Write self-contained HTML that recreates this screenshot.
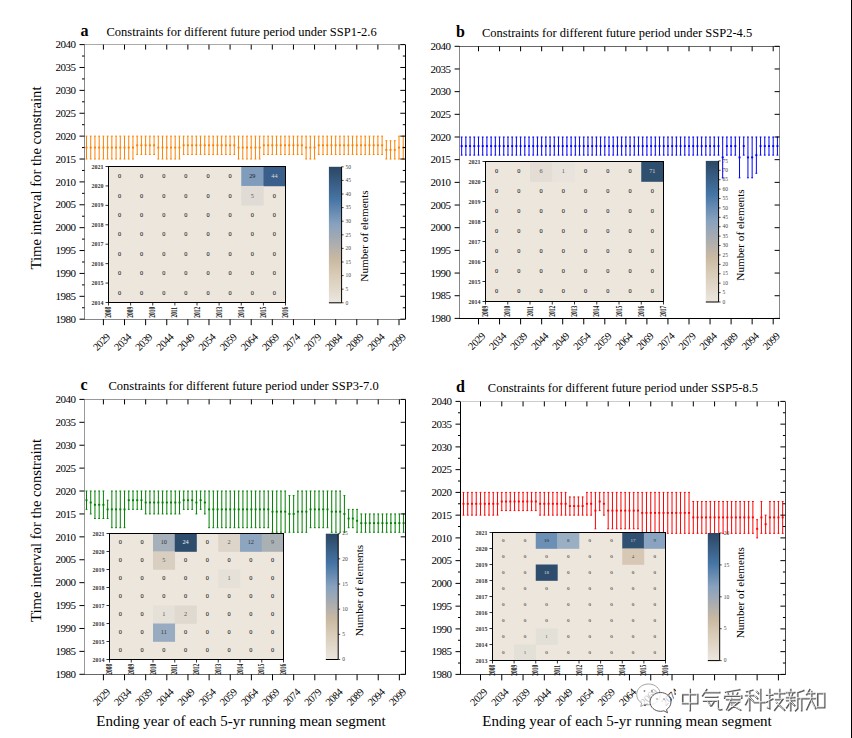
<!DOCTYPE html><html><head><meta charset="utf-8"><style>html,body{margin:0;padding:0;background:#fff;width:852px;height:738px;overflow:hidden;position:relative}</style></head><body><svg width="852" height="738" viewBox="0 0 852 738" style="display:block;position:absolute;left:0;top:0">
<defs><linearGradient id="cg" x1="0" y1="1" x2="0" y2="0"><stop offset="0" stop-color="#ebe6de"/><stop offset="0.2" stop-color="#d9ccb8"/><stop offset="0.32" stop-color="#c9b9a2"/><stop offset="0.45" stop-color="#a8acb0"/><stop offset="0.58" stop-color="#87a1be"/><stop offset="0.76" stop-color="#4675a5"/><stop offset="1" stop-color="#2b4663"/></linearGradient></defs>
<rect width="852" height="738" fill="#fff"/>
<text x="80.50" y="36.30" style="font-family:'Liberation Serif',serif;font-weight:bold;font-size:16px">a</text>
<text x="106.50" y="36.30" style="font-family:'Liberation Serif',serif;font-size:12.5px">Constraints for different future period under SSP1-2.6</text>
<g stroke="#ff8000" stroke-width="1" fill="none"><path d="M86.51 136.13V159.02M85.61 136.13h1.8M85.61 159.02h1.8"/><path d="M90.73 136.13V159.02M89.83 136.13h1.8M89.83 159.02h1.8"/><path d="M94.95 136.13V159.02M94.05 136.13h1.8M94.05 159.02h1.8"/><path d="M99.18 136.13V159.02M98.28 136.13h1.8M98.28 159.02h1.8"/><path d="M103.40 136.13V159.02M102.50 136.13h1.8M102.50 159.02h1.8"/><path d="M107.62 136.13V159.02M106.72 136.13h1.8M106.72 159.02h1.8"/><path d="M111.85 136.13V159.02M110.95 136.13h1.8M110.95 159.02h1.8"/><path d="M116.07 136.13V159.02M115.17 136.13h1.8M115.17 159.02h1.8"/><path d="M120.29 136.13V159.02M119.39 136.13h1.8M119.39 159.02h1.8"/><path d="M124.52 136.13V159.02M123.61 136.13h1.8M123.61 159.02h1.8"/><path d="M128.74 136.13V159.02M127.84 136.13h1.8M127.84 159.02h1.8"/><path d="M132.96 136.13V159.02M132.06 136.13h1.8M132.06 159.02h1.8"/><path d="M137.18 136.13V154.44M136.28 136.13h1.8M136.28 154.44h1.8"/><path d="M141.41 136.13V154.44M140.51 136.13h1.8M140.51 154.44h1.8"/><path d="M145.63 136.13V154.44M144.73 136.13h1.8M144.73 154.44h1.8"/><path d="M149.85 136.13V154.44M148.95 136.13h1.8M148.95 154.44h1.8"/><path d="M154.08 136.13V154.44M153.18 136.13h1.8M153.18 154.44h1.8"/><path d="M158.30 136.13V159.02M157.40 136.13h1.8M157.40 159.02h1.8"/><path d="M162.52 136.13V159.02M161.62 136.13h1.8M161.62 159.02h1.8"/><path d="M166.75 136.13V159.02M165.84 136.13h1.8M165.84 159.02h1.8"/><path d="M170.97 136.13V159.02M170.07 136.13h1.8M170.07 159.02h1.8"/><path d="M175.19 136.13V159.02M174.29 136.13h1.8M174.29 159.02h1.8"/><path d="M179.41 136.13V159.02M178.51 136.13h1.8M178.51 159.02h1.8"/><path d="M183.64 136.13V154.44M182.74 136.13h1.8M182.74 154.44h1.8"/><path d="M187.86 136.13V154.44M186.96 136.13h1.8M186.96 154.44h1.8"/><path d="M192.08 136.13V154.44M191.18 136.13h1.8M191.18 154.44h1.8"/><path d="M196.31 136.13V154.44M195.41 136.13h1.8M195.41 154.44h1.8"/><path d="M200.53 136.13V154.44M199.63 136.13h1.8M199.63 154.44h1.8"/><path d="M204.75 136.13V154.44M203.85 136.13h1.8M203.85 154.44h1.8"/><path d="M208.98 136.13V154.44M208.08 136.13h1.8M208.08 154.44h1.8"/><path d="M213.20 136.13V154.44M212.30 136.13h1.8M212.30 154.44h1.8"/><path d="M217.42 136.13V154.44M216.52 136.13h1.8M216.52 154.44h1.8"/><path d="M221.64 136.13V154.44M220.74 136.13h1.8M220.74 154.44h1.8"/><path d="M225.87 136.13V154.44M224.97 136.13h1.8M224.97 154.44h1.8"/><path d="M230.09 136.13V154.44M229.19 136.13h1.8M229.19 154.44h1.8"/><path d="M234.31 136.13V154.44M233.41 136.13h1.8M233.41 154.44h1.8"/><path d="M238.54 136.13V159.02M237.64 136.13h1.8M237.64 159.02h1.8"/><path d="M242.76 136.13V159.02M241.86 136.13h1.8M241.86 159.02h1.8"/><path d="M246.98 136.13V159.02M246.08 136.13h1.8M246.08 159.02h1.8"/><path d="M251.21 136.13V159.02M250.31 136.13h1.8M250.31 159.02h1.8"/><path d="M255.43 136.13V159.02M254.53 136.13h1.8M254.53 159.02h1.8"/><path d="M259.65 136.13V159.02M258.75 136.13h1.8M258.75 159.02h1.8"/><path d="M263.87 136.13V154.44M262.97 136.13h1.8M262.97 154.44h1.8"/><path d="M268.10 136.13V154.44M267.20 136.13h1.8M267.20 154.44h1.8"/><path d="M272.32 136.13V154.44M271.42 136.13h1.8M271.42 154.44h1.8"/><path d="M276.54 136.13V154.44M275.64 136.13h1.8M275.64 154.44h1.8"/><path d="M280.77 136.13V154.44M279.87 136.13h1.8M279.87 154.44h1.8"/><path d="M284.99 136.13V154.44M284.09 136.13h1.8M284.09 154.44h1.8"/><path d="M289.21 136.13V154.44M288.31 136.13h1.8M288.31 154.44h1.8"/><path d="M293.44 136.13V154.44M292.54 136.13h1.8M292.54 154.44h1.8"/><path d="M297.66 136.13V154.44M296.76 136.13h1.8M296.76 154.44h1.8"/><path d="M301.88 136.13V154.44M300.98 136.13h1.8M300.98 154.44h1.8"/><path d="M306.10 136.13V159.02M305.20 136.13h1.8M305.20 159.02h1.8"/><path d="M310.33 136.13V159.02M309.43 136.13h1.8M309.43 159.02h1.8"/><path d="M314.55 136.13V159.02M313.65 136.13h1.8M313.65 159.02h1.8"/><path d="M318.77 136.13V154.44M317.87 136.13h1.8M317.87 154.44h1.8"/><path d="M323.00 136.13V154.44M322.10 136.13h1.8M322.10 154.44h1.8"/><path d="M327.22 136.13V154.44M326.32 136.13h1.8M326.32 154.44h1.8"/><path d="M331.44 136.13V154.44M330.54 136.13h1.8M330.54 154.44h1.8"/><path d="M335.66 136.13V154.44M334.76 136.13h1.8M334.76 154.44h1.8"/><path d="M339.89 136.13V154.44M338.99 136.13h1.8M338.99 154.44h1.8"/><path d="M344.11 136.13V154.44M343.21 136.13h1.8M343.21 154.44h1.8"/><path d="M348.33 136.13V154.44M347.43 136.13h1.8M347.43 154.44h1.8"/><path d="M352.56 136.13V154.44M351.66 136.13h1.8M351.66 154.44h1.8"/><path d="M356.78 136.13V154.44M355.88 136.13h1.8M355.88 154.44h1.8"/><path d="M361.00 136.13V154.44M360.10 136.13h1.8M360.10 154.44h1.8"/><path d="M365.23 136.13V154.44M364.33 136.13h1.8M364.33 154.44h1.8"/><path d="M369.45 136.13V154.44M368.55 136.13h1.8M368.55 154.44h1.8"/><path d="M373.67 136.13V154.44M372.77 136.13h1.8M372.77 154.44h1.8"/><path d="M377.89 136.13V154.44M377.00 136.13h1.8M377.00 154.44h1.8"/><path d="M382.12 136.13V154.44M381.22 136.13h1.8M381.22 154.44h1.8"/><path d="M386.34 140.71V159.02M385.44 140.71h1.8M385.44 159.02h1.8"/><path d="M390.56 140.71V159.02M389.66 140.71h1.8M389.66 159.02h1.8"/><path d="M394.79 140.71V159.02M393.89 140.71h1.8M393.89 159.02h1.8"/><path d="M399.01 136.13V159.02M398.11 136.13h1.8M398.11 159.02h1.8"/><path d="M403.23 136.13V159.02M402.33 136.13h1.8M402.33 159.02h1.8"/></g>
<g fill="#ff8000"><rect x="85.51" y="146.67" width="2" height="1.8"/><rect x="89.73" y="146.67" width="2" height="1.8"/><rect x="93.95" y="146.67" width="2" height="1.8"/><rect x="98.18" y="146.67" width="2" height="1.8"/><rect x="102.40" y="146.67" width="2" height="1.8"/><rect x="106.62" y="146.67" width="2" height="1.8"/><rect x="110.85" y="146.67" width="2" height="1.8"/><rect x="115.07" y="146.67" width="2" height="1.8"/><rect x="119.29" y="146.67" width="2" height="1.8"/><rect x="123.52" y="146.67" width="2" height="1.8"/><rect x="127.74" y="146.67" width="2" height="1.8"/><rect x="131.96" y="146.67" width="2" height="1.8"/><rect x="136.18" y="144.39" width="2" height="1.8"/><rect x="140.41" y="144.39" width="2" height="1.8"/><rect x="144.63" y="144.39" width="2" height="1.8"/><rect x="148.85" y="144.39" width="2" height="1.8"/><rect x="153.08" y="144.39" width="2" height="1.8"/><rect x="157.30" y="146.67" width="2" height="1.8"/><rect x="161.52" y="146.67" width="2" height="1.8"/><rect x="165.75" y="146.67" width="2" height="1.8"/><rect x="169.97" y="146.67" width="2" height="1.8"/><rect x="174.19" y="146.67" width="2" height="1.8"/><rect x="178.41" y="146.67" width="2" height="1.8"/><rect x="182.64" y="144.39" width="2" height="1.8"/><rect x="186.86" y="144.39" width="2" height="1.8"/><rect x="191.08" y="144.39" width="2" height="1.8"/><rect x="195.31" y="144.39" width="2" height="1.8"/><rect x="199.53" y="144.39" width="2" height="1.8"/><rect x="203.75" y="144.39" width="2" height="1.8"/><rect x="207.98" y="144.39" width="2" height="1.8"/><rect x="212.20" y="144.39" width="2" height="1.8"/><rect x="216.42" y="144.39" width="2" height="1.8"/><rect x="220.64" y="144.39" width="2" height="1.8"/><rect x="224.87" y="144.39" width="2" height="1.8"/><rect x="229.09" y="144.39" width="2" height="1.8"/><rect x="233.31" y="144.39" width="2" height="1.8"/><rect x="237.54" y="146.67" width="2" height="1.8"/><rect x="241.76" y="146.67" width="2" height="1.8"/><rect x="245.98" y="146.67" width="2" height="1.8"/><rect x="250.21" y="146.67" width="2" height="1.8"/><rect x="254.43" y="146.67" width="2" height="1.8"/><rect x="258.65" y="146.67" width="2" height="1.8"/><rect x="262.87" y="144.39" width="2" height="1.8"/><rect x="267.10" y="144.39" width="2" height="1.8"/><rect x="271.32" y="144.39" width="2" height="1.8"/><rect x="275.54" y="144.39" width="2" height="1.8"/><rect x="279.77" y="144.39" width="2" height="1.8"/><rect x="283.99" y="144.39" width="2" height="1.8"/><rect x="288.21" y="144.39" width="2" height="1.8"/><rect x="292.44" y="144.39" width="2" height="1.8"/><rect x="296.66" y="144.39" width="2" height="1.8"/><rect x="300.88" y="144.39" width="2" height="1.8"/><rect x="305.10" y="146.67" width="2" height="1.8"/><rect x="309.33" y="146.67" width="2" height="1.8"/><rect x="313.55" y="146.67" width="2" height="1.8"/><rect x="317.77" y="144.39" width="2" height="1.8"/><rect x="322.00" y="144.39" width="2" height="1.8"/><rect x="326.22" y="144.39" width="2" height="1.8"/><rect x="330.44" y="144.39" width="2" height="1.8"/><rect x="334.66" y="144.39" width="2" height="1.8"/><rect x="338.89" y="144.39" width="2" height="1.8"/><rect x="343.11" y="144.39" width="2" height="1.8"/><rect x="347.33" y="144.39" width="2" height="1.8"/><rect x="351.56" y="144.39" width="2" height="1.8"/><rect x="355.78" y="144.39" width="2" height="1.8"/><rect x="360.00" y="144.39" width="2" height="1.8"/><rect x="364.23" y="144.39" width="2" height="1.8"/><rect x="368.45" y="144.39" width="2" height="1.8"/><rect x="372.67" y="144.39" width="2" height="1.8"/><rect x="376.89" y="144.39" width="2" height="1.8"/><rect x="381.12" y="144.39" width="2" height="1.8"/><rect x="385.34" y="148.96" width="2" height="1.8"/><rect x="389.56" y="148.96" width="2" height="1.8"/><rect x="393.79" y="148.96" width="2" height="1.8"/><rect x="398.01" y="146.67" width="2" height="1.8"/><rect x="402.23" y="146.67" width="2" height="1.8"/></g>
<g stroke="#000" stroke-width="1" fill="none"><rect x="84" y="44" width="1" height="276" fill="#888" stroke="none"/><rect x="405" y="44" width="1" height="276" fill="#000" stroke="none"/><rect x="84" y="44" width="322" height="1" fill="#aaa" stroke="none"/><rect x="84" y="319" width="322" height="1" fill="#888" stroke="none"/><path d="M79.50 44.60H84.50M400.30 44.60H405.30"/><path d="M82.00 56.04H84.50M402.80 56.04H405.30"/><path d="M79.50 67.48H84.50M400.30 67.48H405.30"/><path d="M82.00 78.92H84.50M402.80 78.92H405.30"/><path d="M79.50 90.37H84.50M400.30 90.37H405.30"/><path d="M82.00 101.81H84.50M402.80 101.81H405.30"/><path d="M79.50 113.25H84.50M400.30 113.25H405.30"/><path d="M82.00 124.69H84.50M402.80 124.69H405.30"/><path d="M79.50 136.13H84.50M400.30 136.13H405.30"/><path d="M82.00 147.57H84.50M402.80 147.57H405.30"/><path d="M79.50 159.02H84.50M400.30 159.02H405.30"/><path d="M82.00 170.46H84.50M402.80 170.46H405.30"/><path d="M79.50 181.90H84.50M400.30 181.90H405.30"/><path d="M82.00 193.34H84.50M402.80 193.34H405.30"/><path d="M79.50 204.78H84.50M400.30 204.78H405.30"/><path d="M82.00 216.22H84.50M402.80 216.22H405.30"/><path d="M79.50 227.67H84.50M400.30 227.67H405.30"/><path d="M82.00 239.11H84.50M402.80 239.11H405.30"/><path d="M79.50 250.55H84.50M400.30 250.55H405.30"/><path d="M82.00 261.99H84.50M402.80 261.99H405.30"/><path d="M79.50 273.43H84.50M400.30 273.43H405.30"/><path d="M82.00 284.88H84.50M402.80 284.88H405.30"/><path d="M79.50 296.32H84.50M400.30 296.32H405.30"/><path d="M82.00 307.76H84.50M402.80 307.76H405.30"/><path d="M79.50 319.20H84.50M400.30 319.20H405.30"/><path d="M103.40 319.20V325.20M103.40 44.60V49.60"/><path d="M124.52 319.20V325.20M124.52 44.60V49.60"/><path d="M145.63 319.20V325.20M145.63 44.60V49.60"/><path d="M166.75 319.20V325.20M166.75 44.60V49.60"/><path d="M187.86 319.20V325.20M187.86 44.60V49.60"/><path d="M208.98 319.20V325.20M208.98 44.60V49.60"/><path d="M230.09 319.20V325.20M230.09 44.60V49.60"/><path d="M251.21 319.20V325.20M251.21 44.60V49.60"/><path d="M272.32 319.20V325.20M272.32 44.60V49.60"/><path d="M293.44 319.20V325.20M293.44 44.60V49.60"/><path d="M314.55 319.20V325.20M314.55 44.60V49.60"/><path d="M335.66 319.20V325.20M335.66 44.60V49.60"/><path d="M356.78 319.20V325.20M356.78 44.60V49.60"/><path d="M377.89 319.20V325.20M377.89 44.60V49.60"/><path d="M399.01 319.20V325.20M399.01 44.60V49.60"/></g>
<g style="font-family:'Liberation Serif',serif;font-size:11px;letter-spacing:-0.5px" text-anchor="end"><text x="75.50" y="48.30">2040</text><text x="75.50" y="71.18">2035</text><text x="75.50" y="94.07">2030</text><text x="75.50" y="116.95">2025</text><text x="75.50" y="139.83">2020</text><text x="75.50" y="162.72">2015</text><text x="75.50" y="185.60">2010</text><text x="75.50" y="208.48">2005</text><text x="75.50" y="231.37">2000</text><text x="75.50" y="254.25">1995</text><text x="75.50" y="277.13">1990</text><text x="75.50" y="300.02">1985</text><text x="75.50" y="322.90">1980</text></g>
<g style="font-family:'Liberation Serif',serif;font-size:10.5px;letter-spacing:-0.5px" text-anchor="middle"><text transform="translate(101.10,341.70) rotate(-45)" x="0" y="4">2029</text><text transform="translate(122.22,341.70) rotate(-45)" x="0" y="4">2034</text><text transform="translate(143.33,341.70) rotate(-45)" x="0" y="4">2039</text><text transform="translate(164.44,341.70) rotate(-45)" x="0" y="4">2044</text><text transform="translate(185.56,341.70) rotate(-45)" x="0" y="4">2049</text><text transform="translate(206.68,341.70) rotate(-45)" x="0" y="4">2054</text><text transform="translate(227.79,341.70) rotate(-45)" x="0" y="4">2059</text><text transform="translate(248.91,341.70) rotate(-45)" x="0" y="4">2064</text><text transform="translate(270.02,341.70) rotate(-45)" x="0" y="4">2069</text><text transform="translate(291.13,341.70) rotate(-45)" x="0" y="4">2074</text><text transform="translate(312.25,341.70) rotate(-45)" x="0" y="4">2079</text><text transform="translate(333.36,341.70) rotate(-45)" x="0" y="4">2084</text><text transform="translate(354.48,341.70) rotate(-45)" x="0" y="4">2089</text><text transform="translate(375.59,341.70) rotate(-45)" x="0" y="4">2094</text><text transform="translate(396.71,341.70) rotate(-45)" x="0" y="4">2099</text></g>
<rect x="108.50" y="166.50" width="177.00" height="136.00" fill="#ece6dd"/><rect x="241.25" y="166.50" width="22.43" height="19.73" fill="#7f9cbd"/><rect x="263.38" y="166.50" width="22.43" height="19.73" fill="#3a5f8a"/><rect x="241.25" y="185.93" width="22.43" height="19.73" fill="#e0dbd4"/><g style="font-family:'Liberation Serif',serif;font-size:6.3px" text-anchor="middle"><text x="119.56" y="178.11" fill="#000">0</text><text x="141.69" y="178.11" fill="#000">0</text><text x="163.81" y="178.11" fill="#000">0</text><text x="185.94" y="178.11" fill="#000">0</text><text x="208.06" y="178.11" fill="#000">0</text><text x="230.19" y="178.11" fill="#000">0</text><text x="252.31" y="178.11" fill="#222">29</text><text x="274.44" y="178.11" fill="#ddd">44</text><text x="119.56" y="197.54" fill="#000">0</text><text x="141.69" y="197.54" fill="#000">0</text><text x="163.81" y="197.54" fill="#000">0</text><text x="185.94" y="197.54" fill="#000">0</text><text x="208.06" y="197.54" fill="#000">0</text><text x="230.19" y="197.54" fill="#000">0</text><text x="252.31" y="197.54" fill="#555">5</text><text x="274.44" y="197.54" fill="#000">0</text><text x="119.56" y="216.97" fill="#000">0</text><text x="141.69" y="216.97" fill="#000">0</text><text x="163.81" y="216.97" fill="#000">0</text><text x="185.94" y="216.97" fill="#000">0</text><text x="208.06" y="216.97" fill="#000">0</text><text x="230.19" y="216.97" fill="#000">0</text><text x="252.31" y="216.97" fill="#000">0</text><text x="274.44" y="216.97" fill="#000">0</text><text x="119.56" y="236.40" fill="#000">0</text><text x="141.69" y="236.40" fill="#000">0</text><text x="163.81" y="236.40" fill="#000">0</text><text x="185.94" y="236.40" fill="#000">0</text><text x="208.06" y="236.40" fill="#000">0</text><text x="230.19" y="236.40" fill="#000">0</text><text x="252.31" y="236.40" fill="#000">0</text><text x="274.44" y="236.40" fill="#000">0</text><text x="119.56" y="255.83" fill="#000">0</text><text x="141.69" y="255.83" fill="#000">0</text><text x="163.81" y="255.83" fill="#000">0</text><text x="185.94" y="255.83" fill="#000">0</text><text x="208.06" y="255.83" fill="#000">0</text><text x="230.19" y="255.83" fill="#000">0</text><text x="252.31" y="255.83" fill="#000">0</text><text x="274.44" y="255.83" fill="#000">0</text><text x="119.56" y="275.26" fill="#000">0</text><text x="141.69" y="275.26" fill="#000">0</text><text x="163.81" y="275.26" fill="#000">0</text><text x="185.94" y="275.26" fill="#000">0</text><text x="208.06" y="275.26" fill="#000">0</text><text x="230.19" y="275.26" fill="#000">0</text><text x="252.31" y="275.26" fill="#000">0</text><text x="274.44" y="275.26" fill="#000">0</text><text x="119.56" y="294.69" fill="#000">0</text><text x="141.69" y="294.69" fill="#000">0</text><text x="163.81" y="294.69" fill="#000">0</text><text x="185.94" y="294.69" fill="#000">0</text><text x="208.06" y="294.69" fill="#000">0</text><text x="230.19" y="294.69" fill="#000">0</text><text x="252.31" y="294.69" fill="#000">0</text><text x="274.44" y="294.69" fill="#000">0</text></g><rect x="108.50" y="166.50" width="177.00" height="136.00" fill="none" stroke="#000" stroke-width="1"/><g stroke="#000" stroke-width="0.8"><path d="M105.50 166.50H108.50"/><path d="M105.50 185.93H108.50"/><path d="M105.50 205.36H108.50"/><path d="M105.50 224.79H108.50"/><path d="M105.50 244.21H108.50"/><path d="M105.50 263.64H108.50"/><path d="M105.50 283.07H108.50"/><path d="M105.50 302.50H108.50"/><path d="M108.50 302.50V305.50"/><path d="M130.62 302.50V305.50"/><path d="M152.75 302.50V305.50"/><path d="M174.88 302.50V305.50"/><path d="M197.00 302.50V305.50"/><path d="M219.12 302.50V305.50"/><path d="M241.25 302.50V305.50"/><path d="M263.38 302.50V305.50"/><path d="M285.50 302.50V305.50"/></g><g style="font-family:'Liberation Serif',serif;font-size:6px;font-weight:bold" fill="#333" text-anchor="end"><text x="103.50" y="168.50">2021</text><text x="103.50" y="187.93">2020</text><text x="103.50" y="207.36">2019</text><text x="103.50" y="226.79">2018</text><text x="103.50" y="246.21">2017</text><text x="103.50" y="265.64">2016</text><text x="103.50" y="285.07">2015</text><text x="103.50" y="304.50">2014</text></g><g style="font-family:'Liberation Serif',serif;font-size:7.5px;font-weight:bold" fill="#111" text-anchor="middle"><text transform="translate(108.50,312.30) rotate(-90) scale(0.72,1)" x="0" y="2.6">2008</text><text transform="translate(130.62,312.30) rotate(-90) scale(0.72,1)" x="0" y="2.6">2009</text><text transform="translate(152.75,312.30) rotate(-90) scale(0.72,1)" x="0" y="2.6">2010</text><text transform="translate(174.88,312.30) rotate(-90) scale(0.72,1)" x="0" y="2.6">2011</text><text transform="translate(197.00,312.30) rotate(-90) scale(0.72,1)" x="0" y="2.6">2012</text><text transform="translate(219.12,312.30) rotate(-90) scale(0.72,1)" x="0" y="2.6">2013</text><text transform="translate(241.25,312.30) rotate(-90) scale(0.72,1)" x="0" y="2.6">2014</text><text transform="translate(263.38,312.30) rotate(-90) scale(0.72,1)" x="0" y="2.6">2015</text><text transform="translate(285.50,312.30) rotate(-90) scale(0.72,1)" x="0" y="2.6">2016</text></g>
<rect x="328.90" y="166.80" width="12.70" height="136.00" fill="url(#cg)"/><path d="M341.60 166.80V302.80M328.90 302.80H341.60" stroke="#000" stroke-width="1" fill="none"/><g style="font-family:'Liberation Serif',serif;font-size:5.5px" fill="#444"><path d="M341.60 302.80h2" stroke="#000" stroke-width="0.7"/><text x="345.60" y="304.50">0</text><path d="M341.60 289.20h2" stroke="#000" stroke-width="0.7"/><text x="345.60" y="290.90">5</text><path d="M341.60 275.60h2" stroke="#000" stroke-width="0.7"/><text x="345.60" y="277.30">10</text><path d="M341.60 262.00h2" stroke="#000" stroke-width="0.7"/><text x="345.60" y="263.70">15</text><path d="M341.60 248.40h2" stroke="#000" stroke-width="0.7"/><text x="345.60" y="250.10">20</text><path d="M341.60 234.80h2" stroke="#000" stroke-width="0.7"/><text x="345.60" y="236.50">25</text><path d="M341.60 221.20h2" stroke="#000" stroke-width="0.7"/><text x="345.60" y="222.90">30</text><path d="M341.60 207.60h2" stroke="#000" stroke-width="0.7"/><text x="345.60" y="209.30">35</text><path d="M341.60 194.00h2" stroke="#000" stroke-width="0.7"/><text x="345.60" y="195.70">40</text><path d="M341.60 180.40h2" stroke="#000" stroke-width="0.7"/><text x="345.60" y="182.10">45</text><path d="M341.60 166.80h2" stroke="#000" stroke-width="0.7"/><text x="345.60" y="168.50">50</text></g><text transform="translate(364.00,236.00) rotate(-90)" text-anchor="middle" y="4" style="font-family:'Liberation Serif',serif;font-size:11.2px">Number of elements</text>
<text x="456.00" y="36.80" style="font-family:'Liberation Serif',serif;font-weight:bold;font-size:16px">b</text>
<text x="482.00" y="36.80" style="font-family:'Liberation Serif',serif;font-size:12.5px">Constraints for different future period under SSP2-4.5</text>
<g stroke="#0000ff" stroke-width="1" fill="none"><path d="M461.66 137.00V155.14M460.76 137.00h1.8M460.76 155.14h1.8"/><path d="M465.87 137.00V155.14M464.97 137.00h1.8M464.97 155.14h1.8"/><path d="M470.08 137.00V155.14M469.18 137.00h1.8M469.18 155.14h1.8"/><path d="M474.29 137.00V155.14M473.39 137.00h1.8M473.39 155.14h1.8"/><path d="M478.50 137.00V155.14M477.60 137.00h1.8M477.60 155.14h1.8"/><path d="M482.71 137.00V155.14M481.81 137.00h1.8M481.81 155.14h1.8"/><path d="M486.92 137.00V155.14M486.02 137.00h1.8M486.02 155.14h1.8"/><path d="M491.13 137.00V155.14M490.23 137.00h1.8M490.23 155.14h1.8"/><path d="M495.34 137.00V155.14M494.44 137.00h1.8M494.44 155.14h1.8"/><path d="M499.55 137.00V155.14M498.65 137.00h1.8M498.65 155.14h1.8"/><path d="M503.76 137.00V155.14M502.86 137.00h1.8M502.86 155.14h1.8"/><path d="M507.97 137.00V155.14M507.07 137.00h1.8M507.07 155.14h1.8"/><path d="M512.18 137.00V155.14M511.28 137.00h1.8M511.28 155.14h1.8"/><path d="M516.39 137.00V155.14M515.49 137.00h1.8M515.49 155.14h1.8"/><path d="M520.60 137.00V155.14M519.70 137.00h1.8M519.70 155.14h1.8"/><path d="M524.81 137.00V155.14M523.91 137.00h1.8M523.91 155.14h1.8"/><path d="M529.02 137.00V155.14M528.12 137.00h1.8M528.12 155.14h1.8"/><path d="M533.23 137.00V155.14M532.33 137.00h1.8M532.33 155.14h1.8"/><path d="M537.44 137.00V155.14M536.54 137.00h1.8M536.54 155.14h1.8"/><path d="M541.65 137.00V155.14M540.75 137.00h1.8M540.75 155.14h1.8"/><path d="M545.86 137.00V155.14M544.96 137.00h1.8M544.96 155.14h1.8"/><path d="M550.07 137.00V155.14M549.17 137.00h1.8M549.17 155.14h1.8"/><path d="M554.28 137.00V155.14M553.38 137.00h1.8M553.38 155.14h1.8"/><path d="M558.49 137.00V155.14M557.59 137.00h1.8M557.59 155.14h1.8"/><path d="M562.70 137.00V155.14M561.80 137.00h1.8M561.80 155.14h1.8"/><path d="M566.91 137.00V155.14M566.01 137.00h1.8M566.01 155.14h1.8"/><path d="M571.12 137.00V155.14M570.22 137.00h1.8M570.22 155.14h1.8"/><path d="M575.33 137.00V155.14M574.43 137.00h1.8M574.43 155.14h1.8"/><path d="M579.54 137.00V155.14M578.64 137.00h1.8M578.64 155.14h1.8"/><path d="M583.75 137.00V155.14M582.85 137.00h1.8M582.85 155.14h1.8"/><path d="M587.96 137.00V155.14M587.06 137.00h1.8M587.06 155.14h1.8"/><path d="M592.17 137.00V155.14M591.27 137.00h1.8M591.27 155.14h1.8"/><path d="M596.38 137.00V155.14M595.48 137.00h1.8M595.48 155.14h1.8"/><path d="M600.59 137.00V155.14M599.69 137.00h1.8M599.69 155.14h1.8"/><path d="M604.80 137.00V155.14M603.90 137.00h1.8M603.90 155.14h1.8"/><path d="M609.01 137.00V155.14M608.11 137.00h1.8M608.11 155.14h1.8"/><path d="M613.22 137.00V155.14M612.32 137.00h1.8M612.32 155.14h1.8"/><path d="M617.43 137.00V155.14M616.53 137.00h1.8M616.53 155.14h1.8"/><path d="M621.64 137.00V155.14M620.74 137.00h1.8M620.74 155.14h1.8"/><path d="M625.85 137.00V155.14M624.95 137.00h1.8M624.95 155.14h1.8"/><path d="M630.06 137.00V155.14M629.16 137.00h1.8M629.16 155.14h1.8"/><path d="M634.27 137.00V155.14M633.37 137.00h1.8M633.37 155.14h1.8"/><path d="M638.48 137.00V155.14M637.58 137.00h1.8M637.58 155.14h1.8"/><path d="M642.69 137.00V155.14M641.79 137.00h1.8M641.79 155.14h1.8"/><path d="M646.90 137.00V155.14M646.00 137.00h1.8M646.00 155.14h1.8"/><path d="M651.11 137.00V155.14M650.21 137.00h1.8M650.21 155.14h1.8"/><path d="M655.32 137.00V155.14M654.42 137.00h1.8M654.42 155.14h1.8"/><path d="M659.53 137.00V155.14M658.63 137.00h1.8M658.63 155.14h1.8"/><path d="M663.74 137.00V155.14M662.84 137.00h1.8M662.84 155.14h1.8"/><path d="M667.95 137.00V155.14M667.05 137.00h1.8M667.05 155.14h1.8"/><path d="M672.16 137.00V155.14M671.26 137.00h1.8M671.26 155.14h1.8"/><path d="M676.37 137.00V155.14M675.47 137.00h1.8M675.47 155.14h1.8"/><path d="M680.58 137.00V155.14M679.68 137.00h1.8M679.68 155.14h1.8"/><path d="M684.79 137.00V155.14M683.89 137.00h1.8M683.89 155.14h1.8"/><path d="M689.00 137.00V155.14M688.10 137.00h1.8M688.10 155.14h1.8"/><path d="M693.21 137.00V155.14M692.31 137.00h1.8M692.31 155.14h1.8"/><path d="M697.42 137.00V155.14M696.52 137.00h1.8M696.52 155.14h1.8"/><path d="M701.63 137.00V155.14M700.73 137.00h1.8M700.73 155.14h1.8"/><path d="M705.84 137.00V155.14M704.94 137.00h1.8M704.94 155.14h1.8"/><path d="M710.05 137.00V155.14M709.15 137.00h1.8M709.15 155.14h1.8"/><path d="M714.26 137.00V155.14M713.36 137.00h1.8M713.36 155.14h1.8"/><path d="M718.47 137.00V155.14M717.57 137.00h1.8M717.57 155.14h1.8"/><path d="M722.68 137.00V177.81M721.78 137.00h1.8M721.78 177.81h1.8"/><path d="M726.89 137.00V155.14M725.99 137.00h1.8M725.99 155.14h1.8"/><path d="M731.10 137.00V155.14M730.20 137.00h1.8M730.20 155.14h1.8"/><path d="M735.31 137.00V155.14M734.41 137.00h1.8M734.41 155.14h1.8"/><path d="M739.52 137.00V177.81M738.62 137.00h1.8M738.62 177.81h1.8"/><path d="M743.73 137.00V155.14M742.83 137.00h1.8M742.83 155.14h1.8"/><path d="M747.94 137.00V177.81M747.04 137.00h1.8M747.04 177.81h1.8"/><path d="M752.15 137.00V177.81M751.25 137.00h1.8M751.25 177.81h1.8"/><path d="M756.36 137.00V173.28M755.46 137.00h1.8M755.46 173.28h1.8"/><path d="M760.57 137.00V155.14M759.67 137.00h1.8M759.67 155.14h1.8"/><path d="M764.78 137.00V155.14M763.88 137.00h1.8M763.88 155.14h1.8"/><path d="M768.99 137.00V155.14M768.09 137.00h1.8M768.09 155.14h1.8"/><path d="M773.20 137.00V155.14M772.30 137.00h1.8M772.30 155.14h1.8"/><path d="M777.41 137.00V155.14M776.51 137.00h1.8M776.51 155.14h1.8"/></g>
<g fill="#0000ff"><rect x="460.66" y="145.17" width="2" height="1.8"/><rect x="464.87" y="145.17" width="2" height="1.8"/><rect x="469.08" y="145.17" width="2" height="1.8"/><rect x="473.29" y="145.17" width="2" height="1.8"/><rect x="477.50" y="145.17" width="2" height="1.8"/><rect x="481.71" y="145.17" width="2" height="1.8"/><rect x="485.92" y="145.17" width="2" height="1.8"/><rect x="490.13" y="145.17" width="2" height="1.8"/><rect x="494.34" y="145.17" width="2" height="1.8"/><rect x="498.55" y="145.17" width="2" height="1.8"/><rect x="502.76" y="145.17" width="2" height="1.8"/><rect x="506.97" y="145.17" width="2" height="1.8"/><rect x="511.18" y="145.17" width="2" height="1.8"/><rect x="515.39" y="145.17" width="2" height="1.8"/><rect x="519.60" y="145.17" width="2" height="1.8"/><rect x="523.81" y="145.17" width="2" height="1.8"/><rect x="528.02" y="145.17" width="2" height="1.8"/><rect x="532.23" y="145.17" width="2" height="1.8"/><rect x="536.44" y="145.17" width="2" height="1.8"/><rect x="540.65" y="145.17" width="2" height="1.8"/><rect x="544.86" y="145.17" width="2" height="1.8"/><rect x="549.07" y="145.17" width="2" height="1.8"/><rect x="553.28" y="145.17" width="2" height="1.8"/><rect x="557.49" y="145.17" width="2" height="1.8"/><rect x="561.70" y="145.17" width="2" height="1.8"/><rect x="565.91" y="145.17" width="2" height="1.8"/><rect x="570.12" y="145.17" width="2" height="1.8"/><rect x="574.33" y="145.17" width="2" height="1.8"/><rect x="578.54" y="145.17" width="2" height="1.8"/><rect x="582.75" y="145.17" width="2" height="1.8"/><rect x="586.96" y="145.17" width="2" height="1.8"/><rect x="591.17" y="145.17" width="2" height="1.8"/><rect x="595.38" y="145.17" width="2" height="1.8"/><rect x="599.59" y="145.17" width="2" height="1.8"/><rect x="603.80" y="145.17" width="2" height="1.8"/><rect x="608.01" y="145.17" width="2" height="1.8"/><rect x="612.22" y="145.17" width="2" height="1.8"/><rect x="616.43" y="145.17" width="2" height="1.8"/><rect x="620.64" y="145.17" width="2" height="1.8"/><rect x="624.85" y="145.17" width="2" height="1.8"/><rect x="629.06" y="145.17" width="2" height="1.8"/><rect x="633.27" y="145.17" width="2" height="1.8"/><rect x="637.48" y="145.17" width="2" height="1.8"/><rect x="641.69" y="145.17" width="2" height="1.8"/><rect x="645.90" y="145.17" width="2" height="1.8"/><rect x="650.11" y="145.17" width="2" height="1.8"/><rect x="654.32" y="145.17" width="2" height="1.8"/><rect x="658.53" y="145.17" width="2" height="1.8"/><rect x="662.74" y="145.17" width="2" height="1.8"/><rect x="666.95" y="145.17" width="2" height="1.8"/><rect x="671.16" y="145.17" width="2" height="1.8"/><rect x="675.37" y="145.17" width="2" height="1.8"/><rect x="679.58" y="145.17" width="2" height="1.8"/><rect x="683.79" y="145.17" width="2" height="1.8"/><rect x="688.00" y="145.17" width="2" height="1.8"/><rect x="692.21" y="145.17" width="2" height="1.8"/><rect x="696.42" y="145.17" width="2" height="1.8"/><rect x="700.63" y="145.17" width="2" height="1.8"/><rect x="704.84" y="145.17" width="2" height="1.8"/><rect x="709.05" y="145.17" width="2" height="1.8"/><rect x="713.26" y="145.17" width="2" height="1.8"/><rect x="717.47" y="145.17" width="2" height="1.8"/><rect x="721.68" y="156.51" width="2" height="1.8"/><rect x="725.89" y="145.17" width="2" height="1.8"/><rect x="730.10" y="145.17" width="2" height="1.8"/><rect x="734.31" y="145.17" width="2" height="1.8"/><rect x="738.52" y="156.51" width="2" height="1.8"/><rect x="742.73" y="145.17" width="2" height="1.8"/><rect x="746.94" y="156.51" width="2" height="1.8"/><rect x="751.15" y="156.51" width="2" height="1.8"/><rect x="755.36" y="154.24" width="2" height="1.8"/><rect x="759.57" y="145.17" width="2" height="1.8"/><rect x="763.78" y="145.17" width="2" height="1.8"/><rect x="767.99" y="145.17" width="2" height="1.8"/><rect x="772.20" y="145.17" width="2" height="1.8"/><rect x="776.41" y="145.17" width="2" height="1.8"/></g>
<g stroke="#000" stroke-width="1" fill="none"><rect x="459" y="46" width="1" height="273" fill="#888" stroke="none"/><rect x="779" y="46" width="1" height="273" fill="#888" stroke="none"/><rect x="459" y="46" width="321" height="1" fill="#666" stroke="none"/><rect x="459" y="318" width="321" height="1" fill="#000" stroke="none"/><path d="M454.60 46.30H459.60M774.60 46.30H779.60"/><path d="M454.60 68.97H459.60M774.60 68.97H779.60"/><path d="M454.60 91.65H459.60M774.60 91.65H779.60"/><path d="M454.60 114.32H459.60M774.60 114.32H779.60"/><path d="M454.60 137.00H459.60M774.60 137.00H779.60"/><path d="M454.60 159.67H459.60M774.60 159.67H779.60"/><path d="M454.60 182.35H459.60M774.60 182.35H779.60"/><path d="M454.60 205.02H459.60M774.60 205.02H779.60"/><path d="M454.60 227.70H459.60M774.60 227.70H779.60"/><path d="M454.60 250.37H459.60M774.60 250.37H779.60"/><path d="M454.60 273.05H459.60M774.60 273.05H779.60"/><path d="M454.60 295.72H459.60M774.60 295.72H779.60"/><path d="M454.60 318.40H459.60M774.60 318.40H779.60"/><path d="M478.50 318.40V324.40M478.50 46.30V51.30"/><path d="M499.55 318.40V324.40M499.55 46.30V51.30"/><path d="M520.60 318.40V324.40M520.60 46.30V51.30"/><path d="M541.65 318.40V324.40M541.65 46.30V51.30"/><path d="M562.70 318.40V324.40M562.70 46.30V51.30"/><path d="M583.75 318.40V324.40M583.75 46.30V51.30"/><path d="M604.80 318.40V324.40M604.80 46.30V51.30"/><path d="M625.85 318.40V324.40M625.85 46.30V51.30"/><path d="M646.90 318.40V324.40M646.90 46.30V51.30"/><path d="M667.95 318.40V324.40M667.95 46.30V51.30"/><path d="M689.00 318.40V324.40M689.00 46.30V51.30"/><path d="M710.05 318.40V324.40M710.05 46.30V51.30"/><path d="M731.10 318.40V324.40M731.10 46.30V51.30"/><path d="M752.15 318.40V324.40M752.15 46.30V51.30"/><path d="M773.20 318.40V324.40M773.20 46.30V51.30"/></g>
<g style="font-family:'Liberation Serif',serif;font-size:11px;letter-spacing:-0.5px" text-anchor="end"><text x="450.60" y="50.00">2040</text><text x="450.60" y="72.67">2035</text><text x="450.60" y="95.35">2030</text><text x="450.60" y="118.02">2025</text><text x="450.60" y="140.70">2020</text><text x="450.60" y="163.37">2015</text><text x="450.60" y="186.05">2010</text><text x="450.60" y="208.72">2005</text><text x="450.60" y="231.40">2000</text><text x="450.60" y="254.07">1995</text><text x="450.60" y="276.75">1990</text><text x="450.60" y="299.42">1985</text><text x="450.60" y="322.10">1980</text></g>
<g style="font-family:'Liberation Serif',serif;font-size:10.5px;letter-spacing:-0.5px" text-anchor="middle"><text transform="translate(476.20,340.90) rotate(-45)" x="0" y="4">2029</text><text transform="translate(497.25,340.90) rotate(-45)" x="0" y="4">2034</text><text transform="translate(518.30,340.90) rotate(-45)" x="0" y="4">2039</text><text transform="translate(539.35,340.90) rotate(-45)" x="0" y="4">2044</text><text transform="translate(560.40,340.90) rotate(-45)" x="0" y="4">2049</text><text transform="translate(581.45,340.90) rotate(-45)" x="0" y="4">2054</text><text transform="translate(602.50,340.90) rotate(-45)" x="0" y="4">2059</text><text transform="translate(623.55,340.90) rotate(-45)" x="0" y="4">2064</text><text transform="translate(644.60,340.90) rotate(-45)" x="0" y="4">2069</text><text transform="translate(665.65,340.90) rotate(-45)" x="0" y="4">2074</text><text transform="translate(686.70,340.90) rotate(-45)" x="0" y="4">2079</text><text transform="translate(707.75,340.90) rotate(-45)" x="0" y="4">2084</text><text transform="translate(728.80,340.90) rotate(-45)" x="0" y="4">2089</text><text transform="translate(749.85,340.90) rotate(-45)" x="0" y="4">2094</text><text transform="translate(770.90,340.90) rotate(-45)" x="0" y="4">2099</text></g>
<rect x="485.50" y="161.50" width="178.00" height="140.00" fill="#ece6dd"/><rect x="530.00" y="161.50" width="22.55" height="20.30" fill="#e3ddd6"/><rect x="552.25" y="161.50" width="22.55" height="20.30" fill="#e8e3dc"/><rect x="641.25" y="161.50" width="22.55" height="20.30" fill="#2f4f6e"/><g style="font-family:'Liberation Serif',serif;font-size:6.3px" text-anchor="middle"><text x="496.62" y="173.40" fill="#000">0</text><text x="518.88" y="173.40" fill="#000">0</text><text x="541.12" y="173.40" fill="#555">6</text><text x="563.38" y="173.40" fill="#555">1</text><text x="585.62" y="173.40" fill="#000">0</text><text x="607.88" y="173.40" fill="#000">0</text><text x="630.12" y="173.40" fill="#000">0</text><text x="652.38" y="173.40" fill="#ddd">71</text><text x="496.62" y="193.40" fill="#000">0</text><text x="518.88" y="193.40" fill="#000">0</text><text x="541.12" y="193.40" fill="#000">0</text><text x="563.38" y="193.40" fill="#000">0</text><text x="585.62" y="193.40" fill="#000">0</text><text x="607.88" y="193.40" fill="#000">0</text><text x="630.12" y="193.40" fill="#000">0</text><text x="652.38" y="193.40" fill="#000">0</text><text x="496.62" y="213.40" fill="#000">0</text><text x="518.88" y="213.40" fill="#000">0</text><text x="541.12" y="213.40" fill="#000">0</text><text x="563.38" y="213.40" fill="#000">0</text><text x="585.62" y="213.40" fill="#000">0</text><text x="607.88" y="213.40" fill="#000">0</text><text x="630.12" y="213.40" fill="#000">0</text><text x="652.38" y="213.40" fill="#000">0</text><text x="496.62" y="233.40" fill="#000">0</text><text x="518.88" y="233.40" fill="#000">0</text><text x="541.12" y="233.40" fill="#000">0</text><text x="563.38" y="233.40" fill="#000">0</text><text x="585.62" y="233.40" fill="#000">0</text><text x="607.88" y="233.40" fill="#000">0</text><text x="630.12" y="233.40" fill="#000">0</text><text x="652.38" y="233.40" fill="#000">0</text><text x="496.62" y="253.40" fill="#000">0</text><text x="518.88" y="253.40" fill="#000">0</text><text x="541.12" y="253.40" fill="#000">0</text><text x="563.38" y="253.40" fill="#000">0</text><text x="585.62" y="253.40" fill="#000">0</text><text x="607.88" y="253.40" fill="#000">0</text><text x="630.12" y="253.40" fill="#000">0</text><text x="652.38" y="253.40" fill="#000">0</text><text x="496.62" y="273.40" fill="#000">0</text><text x="518.88" y="273.40" fill="#000">0</text><text x="541.12" y="273.40" fill="#000">0</text><text x="563.38" y="273.40" fill="#000">0</text><text x="585.62" y="273.40" fill="#000">0</text><text x="607.88" y="273.40" fill="#000">0</text><text x="630.12" y="273.40" fill="#000">0</text><text x="652.38" y="273.40" fill="#000">0</text><text x="496.62" y="293.40" fill="#000">0</text><text x="518.88" y="293.40" fill="#000">0</text><text x="541.12" y="293.40" fill="#000">0</text><text x="563.38" y="293.40" fill="#000">0</text><text x="585.62" y="293.40" fill="#000">0</text><text x="607.88" y="293.40" fill="#000">0</text><text x="630.12" y="293.40" fill="#000">0</text><text x="652.38" y="293.40" fill="#000">0</text></g><rect x="485.50" y="161.50" width="178.00" height="140.00" fill="none" stroke="#000" stroke-width="1"/><g stroke="#000" stroke-width="0.8"><path d="M482.50 161.50H485.50"/><path d="M482.50 181.50H485.50"/><path d="M482.50 201.50H485.50"/><path d="M482.50 221.50H485.50"/><path d="M482.50 241.50H485.50"/><path d="M482.50 261.50H485.50"/><path d="M482.50 281.50H485.50"/><path d="M482.50 301.50H485.50"/><path d="M485.50 301.50V304.50"/><path d="M507.75 301.50V304.50"/><path d="M530.00 301.50V304.50"/><path d="M552.25 301.50V304.50"/><path d="M574.50 301.50V304.50"/><path d="M596.75 301.50V304.50"/><path d="M619.00 301.50V304.50"/><path d="M641.25 301.50V304.50"/><path d="M663.50 301.50V304.50"/></g><g style="font-family:'Liberation Serif',serif;font-size:6px;font-weight:bold" fill="#333" text-anchor="end"><text x="480.50" y="163.50">2021</text><text x="480.50" y="183.50">2020</text><text x="480.50" y="203.50">2019</text><text x="480.50" y="223.50">2018</text><text x="480.50" y="243.50">2017</text><text x="480.50" y="263.50">2016</text><text x="480.50" y="283.50">2015</text><text x="480.50" y="303.50">2014</text></g><g style="font-family:'Liberation Serif',serif;font-size:7.5px;font-weight:bold" fill="#111" text-anchor="middle"><text transform="translate(485.50,311.30) rotate(-90) scale(0.72,1)" x="0" y="2.6">2009</text><text transform="translate(507.75,311.30) rotate(-90) scale(0.72,1)" x="0" y="2.6">2010</text><text transform="translate(530.00,311.30) rotate(-90) scale(0.72,1)" x="0" y="2.6">2011</text><text transform="translate(552.25,311.30) rotate(-90) scale(0.72,1)" x="0" y="2.6">2012</text><text transform="translate(574.50,311.30) rotate(-90) scale(0.72,1)" x="0" y="2.6">2013</text><text transform="translate(596.75,311.30) rotate(-90) scale(0.72,1)" x="0" y="2.6">2014</text><text transform="translate(619.00,311.30) rotate(-90) scale(0.72,1)" x="0" y="2.6">2015</text><text transform="translate(641.25,311.30) rotate(-90) scale(0.72,1)" x="0" y="2.6">2016</text><text transform="translate(663.50,311.30) rotate(-90) scale(0.72,1)" x="0" y="2.6">2017</text></g>
<rect x="705.80" y="160.90" width="12.80" height="141.10" fill="url(#cg)"/><path d="M718.60 160.90V302.00M705.80 302.00H718.60" stroke="#000" stroke-width="1" fill="none"/><g style="font-family:'Liberation Serif',serif;font-size:5.5px" fill="#444"><path d="M718.60 302.00h2" stroke="#000" stroke-width="0.7"/><text x="722.60" y="303.70">0</text><path d="M718.60 292.59h2" stroke="#000" stroke-width="0.7"/><text x="722.60" y="294.29">5</text><path d="M718.60 283.19h2" stroke="#000" stroke-width="0.7"/><text x="722.60" y="284.89">10</text><path d="M718.60 273.78h2" stroke="#000" stroke-width="0.7"/><text x="722.60" y="275.48">15</text><path d="M718.60 264.37h2" stroke="#000" stroke-width="0.7"/><text x="722.60" y="266.07">20</text><path d="M718.60 254.97h2" stroke="#000" stroke-width="0.7"/><text x="722.60" y="256.67">25</text><path d="M718.60 245.56h2" stroke="#000" stroke-width="0.7"/><text x="722.60" y="247.26">30</text><path d="M718.60 236.15h2" stroke="#000" stroke-width="0.7"/><text x="722.60" y="237.85">35</text><path d="M718.60 226.75h2" stroke="#000" stroke-width="0.7"/><text x="722.60" y="228.45">40</text><path d="M718.60 217.34h2" stroke="#000" stroke-width="0.7"/><text x="722.60" y="219.04">45</text><path d="M718.60 207.93h2" stroke="#000" stroke-width="0.7"/><text x="722.60" y="209.63">50</text><path d="M718.60 198.53h2" stroke="#000" stroke-width="0.7"/><text x="722.60" y="200.23">55</text><path d="M718.60 189.12h2" stroke="#000" stroke-width="0.7"/><text x="722.60" y="190.82">60</text><path d="M718.60 179.71h2" stroke="#000" stroke-width="0.7"/><text x="722.60" y="181.41">65</text><path d="M718.60 170.31h2" stroke="#000" stroke-width="0.7"/><text x="722.60" y="172.01">70</text><path d="M718.60 160.90h2" stroke="#000" stroke-width="0.7"/><text x="722.60" y="162.60">75</text></g><text transform="translate(740.00,235.00) rotate(-90)" text-anchor="middle" y="4" style="font-family:'Liberation Serif',serif;font-size:11.2px">Number of elements</text>
<text x="80.50" y="389.70" style="font-family:'Liberation Serif',serif;font-weight:bold;font-size:16px">c</text>
<text x="108.50" y="389.70" style="font-family:'Liberation Serif',serif;font-size:12.5px">Constraints for different future period under SSP3-7.0</text>
<g stroke="#008000" stroke-width="1" fill="none"><path d="M86.49 491.03V509.36M85.59 491.03h1.8M85.59 509.36h1.8"/><path d="M90.72 491.03V513.94M89.82 491.03h1.8M89.82 513.94h1.8"/><path d="M94.94 491.03V518.52M94.04 491.03h1.8M94.04 518.52h1.8"/><path d="M99.17 491.03V518.52M98.27 491.03h1.8M98.27 518.52h1.8"/><path d="M103.40 491.03V518.52M102.50 491.03h1.8M102.50 518.52h1.8"/><path d="M107.63 500.20V518.52M106.73 500.20h1.8M106.73 518.52h1.8"/><path d="M111.86 491.03V527.69M110.96 491.03h1.8M110.96 527.69h1.8"/><path d="M116.08 491.03V527.69M115.18 491.03h1.8M115.18 527.69h1.8"/><path d="M120.31 491.03V527.69M119.41 491.03h1.8M119.41 527.69h1.8"/><path d="M124.54 491.03V527.69M123.64 491.03h1.8M123.64 527.69h1.8"/><path d="M128.77 491.03V509.36M127.87 491.03h1.8M127.87 509.36h1.8"/><path d="M133.00 491.03V509.36M132.10 491.03h1.8M132.10 509.36h1.8"/><path d="M137.22 491.03V509.36M136.32 491.03h1.8M136.32 509.36h1.8"/><path d="M141.45 491.03V509.36M140.55 491.03h1.8M140.55 509.36h1.8"/><path d="M145.68 491.03V513.94M144.78 491.03h1.8M144.78 513.94h1.8"/><path d="M149.91 491.03V513.94M149.01 491.03h1.8M149.01 513.94h1.8"/><path d="M154.14 491.03V513.94M153.24 491.03h1.8M153.24 513.94h1.8"/><path d="M158.36 491.03V513.94M157.46 491.03h1.8M157.46 513.94h1.8"/><path d="M162.59 491.03V513.94M161.69 491.03h1.8M161.69 513.94h1.8"/><path d="M166.82 491.03V513.94M165.92 491.03h1.8M165.92 513.94h1.8"/><path d="M171.05 491.03V513.94M170.15 491.03h1.8M170.15 513.94h1.8"/><path d="M175.28 491.03V513.94M174.38 491.03h1.8M174.38 513.94h1.8"/><path d="M179.50 491.03V513.94M178.60 491.03h1.8M178.60 513.94h1.8"/><path d="M183.73 491.03V509.36M182.83 491.03h1.8M182.83 509.36h1.8"/><path d="M187.96 491.03V509.36M187.06 491.03h1.8M187.06 509.36h1.8"/><path d="M192.19 491.03V509.36M191.29 491.03h1.8M191.29 509.36h1.8"/><path d="M196.42 491.03V513.94M195.52 491.03h1.8M195.52 513.94h1.8"/><path d="M200.64 491.03V509.36M199.74 491.03h1.8M199.74 509.36h1.8"/><path d="M204.87 491.03V513.94M203.97 491.03h1.8M203.97 513.94h1.8"/><path d="M209.10 491.03V527.69M208.20 491.03h1.8M208.20 527.69h1.8"/><path d="M213.33 491.03V527.69M212.43 491.03h1.8M212.43 527.69h1.8"/><path d="M217.56 491.03V527.69M216.66 491.03h1.8M216.66 527.69h1.8"/><path d="M221.78 491.03V527.69M220.88 491.03h1.8M220.88 527.69h1.8"/><path d="M226.01 491.03V527.69M225.11 491.03h1.8M225.11 527.69h1.8"/><path d="M230.24 491.03V527.69M229.34 491.03h1.8M229.34 527.69h1.8"/><path d="M234.47 491.03V527.69M233.57 491.03h1.8M233.57 527.69h1.8"/><path d="M238.70 491.03V527.69M237.80 491.03h1.8M237.80 527.69h1.8"/><path d="M242.92 491.03V527.69M242.02 491.03h1.8M242.02 527.69h1.8"/><path d="M247.15 491.03V527.69M246.25 491.03h1.8M246.25 527.69h1.8"/><path d="M251.38 491.03V527.69M250.48 491.03h1.8M250.48 527.69h1.8"/><path d="M255.61 491.03V527.69M254.71 491.03h1.8M254.71 527.69h1.8"/><path d="M259.84 491.03V527.69M258.94 491.03h1.8M258.94 527.69h1.8"/><path d="M264.06 491.03V527.69M263.16 491.03h1.8M263.16 527.69h1.8"/><path d="M268.29 491.03V527.69M267.39 491.03h1.8M267.39 527.69h1.8"/><path d="M272.52 491.03V532.27M271.62 491.03h1.8M271.62 532.27h1.8"/><path d="M276.75 491.03V532.27M275.85 491.03h1.8M275.85 532.27h1.8"/><path d="M280.98 491.03V532.27M280.08 491.03h1.8M280.08 532.27h1.8"/><path d="M285.20 491.03V532.27M284.30 491.03h1.8M284.30 532.27h1.8"/><path d="M289.43 495.61V532.27M288.53 495.61h1.8M288.53 532.27h1.8"/><path d="M293.66 495.61V532.27M292.76 495.61h1.8M292.76 532.27h1.8"/><path d="M297.89 491.03V532.27M296.99 491.03h1.8M296.99 532.27h1.8"/><path d="M302.12 491.03V532.27M301.22 491.03h1.8M301.22 532.27h1.8"/><path d="M306.34 491.03V532.27M305.44 491.03h1.8M305.44 532.27h1.8"/><path d="M310.57 491.03V527.69M309.67 491.03h1.8M309.67 527.69h1.8"/><path d="M314.80 491.03V527.69M313.90 491.03h1.8M313.90 527.69h1.8"/><path d="M319.03 491.03V527.69M318.13 491.03h1.8M318.13 527.69h1.8"/><path d="M323.26 491.03V527.69M322.36 491.03h1.8M322.36 527.69h1.8"/><path d="M327.48 491.03V527.69M326.58 491.03h1.8M326.58 527.69h1.8"/><path d="M331.71 491.03V532.27M330.81 491.03h1.8M330.81 532.27h1.8"/><path d="M335.94 491.03V532.27M335.04 491.03h1.8M335.04 532.27h1.8"/><path d="M340.17 491.03V532.27M339.27 491.03h1.8M339.27 532.27h1.8"/><path d="M344.40 495.61V532.27M343.50 495.61h1.8M343.50 532.27h1.8"/><path d="M348.62 509.36V527.69M347.72 509.36h1.8M347.72 527.69h1.8"/><path d="M352.85 509.36V527.69M351.95 509.36h1.8M351.95 527.69h1.8"/><path d="M357.08 509.36V532.27M356.18 509.36h1.8M356.18 532.27h1.8"/><path d="M361.31 513.94V532.27M360.41 513.94h1.8M360.41 532.27h1.8"/><path d="M365.54 513.94V532.27M364.64 513.94h1.8M364.64 532.27h1.8"/><path d="M369.76 513.94V532.27M368.86 513.94h1.8M368.86 532.27h1.8"/><path d="M373.99 513.94V532.27M373.09 513.94h1.8M373.09 532.27h1.8"/><path d="M378.22 513.94V532.27M377.32 513.94h1.8M377.32 532.27h1.8"/><path d="M382.45 513.94V532.27M381.55 513.94h1.8M381.55 532.27h1.8"/><path d="M386.68 513.94V532.27M385.78 513.94h1.8M385.78 532.27h1.8"/><path d="M390.90 513.94V532.27M390.00 513.94h1.8M390.00 532.27h1.8"/><path d="M395.13 513.94V532.27M394.23 513.94h1.8M394.23 532.27h1.8"/><path d="M399.36 513.94V532.27M398.46 513.94h1.8M398.46 532.27h1.8"/><path d="M403.59 513.94V532.27M402.69 513.94h1.8M402.69 532.27h1.8"/></g>
<g fill="#008000"><rect x="85.49" y="499.30" width="2" height="1.8"/><rect x="89.72" y="501.59" width="2" height="1.8"/><rect x="93.94" y="503.88" width="2" height="1.8"/><rect x="98.17" y="503.88" width="2" height="1.8"/><rect x="102.40" y="503.88" width="2" height="1.8"/><rect x="106.63" y="508.46" width="2" height="1.8"/><rect x="110.86" y="508.46" width="2" height="1.8"/><rect x="115.08" y="508.46" width="2" height="1.8"/><rect x="119.31" y="508.46" width="2" height="1.8"/><rect x="123.54" y="508.46" width="2" height="1.8"/><rect x="127.77" y="499.30" width="2" height="1.8"/><rect x="132.00" y="499.30" width="2" height="1.8"/><rect x="136.22" y="499.30" width="2" height="1.8"/><rect x="140.45" y="499.30" width="2" height="1.8"/><rect x="144.68" y="501.59" width="2" height="1.8"/><rect x="148.91" y="501.59" width="2" height="1.8"/><rect x="153.14" y="501.59" width="2" height="1.8"/><rect x="157.36" y="501.59" width="2" height="1.8"/><rect x="161.59" y="501.59" width="2" height="1.8"/><rect x="165.82" y="501.59" width="2" height="1.8"/><rect x="170.05" y="501.59" width="2" height="1.8"/><rect x="174.28" y="501.59" width="2" height="1.8"/><rect x="178.50" y="501.59" width="2" height="1.8"/><rect x="182.73" y="499.30" width="2" height="1.8"/><rect x="186.96" y="499.30" width="2" height="1.8"/><rect x="191.19" y="499.30" width="2" height="1.8"/><rect x="195.42" y="501.59" width="2" height="1.8"/><rect x="199.64" y="499.30" width="2" height="1.8"/><rect x="203.87" y="501.59" width="2" height="1.8"/><rect x="208.10" y="508.46" width="2" height="1.8"/><rect x="212.33" y="508.46" width="2" height="1.8"/><rect x="216.56" y="508.46" width="2" height="1.8"/><rect x="220.78" y="508.46" width="2" height="1.8"/><rect x="225.01" y="508.46" width="2" height="1.8"/><rect x="229.24" y="508.46" width="2" height="1.8"/><rect x="233.47" y="508.46" width="2" height="1.8"/><rect x="237.70" y="508.46" width="2" height="1.8"/><rect x="241.92" y="508.46" width="2" height="1.8"/><rect x="246.15" y="508.46" width="2" height="1.8"/><rect x="250.38" y="508.46" width="2" height="1.8"/><rect x="254.61" y="508.46" width="2" height="1.8"/><rect x="258.84" y="508.46" width="2" height="1.8"/><rect x="263.06" y="508.46" width="2" height="1.8"/><rect x="267.29" y="508.46" width="2" height="1.8"/><rect x="271.52" y="510.75" width="2" height="1.8"/><rect x="275.75" y="510.75" width="2" height="1.8"/><rect x="279.98" y="510.75" width="2" height="1.8"/><rect x="284.20" y="510.75" width="2" height="1.8"/><rect x="288.43" y="513.04" width="2" height="1.8"/><rect x="292.66" y="513.04" width="2" height="1.8"/><rect x="296.89" y="510.75" width="2" height="1.8"/><rect x="301.12" y="510.75" width="2" height="1.8"/><rect x="305.34" y="510.75" width="2" height="1.8"/><rect x="309.57" y="508.46" width="2" height="1.8"/><rect x="313.80" y="508.46" width="2" height="1.8"/><rect x="318.03" y="508.46" width="2" height="1.8"/><rect x="322.26" y="508.46" width="2" height="1.8"/><rect x="326.48" y="508.46" width="2" height="1.8"/><rect x="330.71" y="510.75" width="2" height="1.8"/><rect x="334.94" y="510.75" width="2" height="1.8"/><rect x="339.17" y="510.75" width="2" height="1.8"/><rect x="343.40" y="513.04" width="2" height="1.8"/><rect x="347.62" y="517.62" width="2" height="1.8"/><rect x="351.85" y="517.62" width="2" height="1.8"/><rect x="356.08" y="519.91" width="2" height="1.8"/><rect x="360.31" y="522.21" width="2" height="1.8"/><rect x="364.54" y="522.21" width="2" height="1.8"/><rect x="368.76" y="522.21" width="2" height="1.8"/><rect x="372.99" y="522.21" width="2" height="1.8"/><rect x="377.22" y="522.21" width="2" height="1.8"/><rect x="381.45" y="522.21" width="2" height="1.8"/><rect x="385.68" y="522.21" width="2" height="1.8"/><rect x="389.90" y="522.21" width="2" height="1.8"/><rect x="394.13" y="522.21" width="2" height="1.8"/><rect x="398.36" y="522.21" width="2" height="1.8"/><rect x="402.59" y="522.21" width="2" height="1.8"/></g>
<g stroke="#000" stroke-width="1" fill="none"><rect x="84" y="399" width="1" height="276" fill="#999" stroke="none"/><rect x="405" y="399" width="1" height="276" fill="#000" stroke="none"/><rect x="84" y="399" width="322" height="1" fill="#999" stroke="none"/><rect x="84" y="674" width="322" height="1" fill="#666" stroke="none"/><path d="M79.40 399.40H84.40M400.70 399.40H405.70"/><path d="M79.40 422.31H84.40M400.70 422.31H405.70"/><path d="M79.40 445.22H84.40M400.70 445.22H405.70"/><path d="M79.40 468.12H84.40M400.70 468.12H405.70"/><path d="M79.40 491.03H84.40M400.70 491.03H405.70"/><path d="M79.40 513.94H84.40M400.70 513.94H405.70"/><path d="M79.40 536.85H84.40M400.70 536.85H405.70"/><path d="M79.40 559.76H84.40M400.70 559.76H405.70"/><path d="M79.40 582.67H84.40M400.70 582.67H405.70"/><path d="M79.40 605.57H84.40M400.70 605.57H405.70"/><path d="M79.40 628.48H84.40M400.70 628.48H405.70"/><path d="M79.40 651.39H84.40M400.70 651.39H405.70"/><path d="M79.40 674.30H84.40M400.70 674.30H405.70"/><path d="M103.40 674.30V680.30M103.40 399.40V404.40"/><path d="M124.54 674.30V680.30M124.54 399.40V404.40"/><path d="M145.68 674.30V680.30M145.68 399.40V404.40"/><path d="M166.82 674.30V680.30M166.82 399.40V404.40"/><path d="M187.96 674.30V680.30M187.96 399.40V404.40"/><path d="M209.10 674.30V680.30M209.10 399.40V404.40"/><path d="M230.24 674.30V680.30M230.24 399.40V404.40"/><path d="M251.38 674.30V680.30M251.38 399.40V404.40"/><path d="M272.52 674.30V680.30M272.52 399.40V404.40"/><path d="M293.66 674.30V680.30M293.66 399.40V404.40"/><path d="M314.80 674.30V680.30M314.80 399.40V404.40"/><path d="M335.94 674.30V680.30M335.94 399.40V404.40"/><path d="M357.08 674.30V680.30M357.08 399.40V404.40"/><path d="M378.22 674.30V680.30M378.22 399.40V404.40"/><path d="M399.36 674.30V680.30M399.36 399.40V404.40"/></g>
<g style="font-family:'Liberation Serif',serif;font-size:11px;letter-spacing:-0.5px" text-anchor="end"><text x="75.40" y="403.10">2040</text><text x="75.40" y="426.01">2035</text><text x="75.40" y="448.92">2030</text><text x="75.40" y="471.82">2025</text><text x="75.40" y="494.73">2020</text><text x="75.40" y="517.64">2015</text><text x="75.40" y="540.55">2010</text><text x="75.40" y="563.46">2005</text><text x="75.40" y="586.37">2000</text><text x="75.40" y="609.27">1995</text><text x="75.40" y="632.18">1990</text><text x="75.40" y="655.09">1985</text><text x="75.40" y="678.00">1980</text></g>
<g style="font-family:'Liberation Serif',serif;font-size:10.5px;letter-spacing:-0.5px" text-anchor="middle"><text transform="translate(101.10,696.80) rotate(-45)" x="0" y="4">2029</text><text transform="translate(122.24,696.80) rotate(-45)" x="0" y="4">2034</text><text transform="translate(143.38,696.80) rotate(-45)" x="0" y="4">2039</text><text transform="translate(164.52,696.80) rotate(-45)" x="0" y="4">2044</text><text transform="translate(185.66,696.80) rotate(-45)" x="0" y="4">2049</text><text transform="translate(206.80,696.80) rotate(-45)" x="0" y="4">2054</text><text transform="translate(227.94,696.80) rotate(-45)" x="0" y="4">2059</text><text transform="translate(249.08,696.80) rotate(-45)" x="0" y="4">2064</text><text transform="translate(270.22,696.80) rotate(-45)" x="0" y="4">2069</text><text transform="translate(291.36,696.80) rotate(-45)" x="0" y="4">2074</text><text transform="translate(312.50,696.80) rotate(-45)" x="0" y="4">2079</text><text transform="translate(333.64,696.80) rotate(-45)" x="0" y="4">2084</text><text transform="translate(354.78,696.80) rotate(-45)" x="0" y="4">2089</text><text transform="translate(375.92,696.80) rotate(-45)" x="0" y="4">2094</text><text transform="translate(397.06,696.80) rotate(-45)" x="0" y="4">2099</text></g>
<rect x="109.50" y="533.50" width="174.00" height="126.00" fill="#ece6dd"/><rect x="153.00" y="533.50" width="22.05" height="18.30" fill="#a6b0bb"/><rect x="174.75" y="533.50" width="22.05" height="18.30" fill="#2e4d6d"/><rect x="218.25" y="533.50" width="22.05" height="18.30" fill="#ddd5c9"/><rect x="240.00" y="533.50" width="22.05" height="18.30" fill="#8ea5bf"/><rect x="261.75" y="533.50" width="22.05" height="18.30" fill="#aab1b5"/><rect x="153.00" y="551.50" width="22.05" height="18.30" fill="#d9cfc1"/><rect x="218.25" y="569.50" width="22.05" height="18.30" fill="#e5e0d8"/><rect x="153.00" y="605.50" width="22.05" height="18.30" fill="#e5e0d8"/><rect x="174.75" y="605.50" width="22.05" height="18.30" fill="#e0d9cf"/><rect x="153.00" y="623.50" width="22.05" height="18.30" fill="#98abc0"/><g style="font-family:'Liberation Serif',serif;font-size:6.3px" text-anchor="middle"><text x="120.38" y="544.40" fill="#000">0</text><text x="142.12" y="544.40" fill="#000">0</text><text x="163.88" y="544.40" fill="#333">10</text><text x="185.62" y="544.40" fill="#eee">24</text><text x="207.38" y="544.40" fill="#000">0</text><text x="229.12" y="544.40" fill="#555">2</text><text x="250.88" y="544.40" fill="#333">12</text><text x="272.62" y="544.40" fill="#555">9</text><text x="120.38" y="562.40" fill="#000">0</text><text x="142.12" y="562.40" fill="#000">0</text><text x="163.88" y="562.40" fill="#555">5</text><text x="185.62" y="562.40" fill="#000">0</text><text x="207.38" y="562.40" fill="#000">0</text><text x="229.12" y="562.40" fill="#000">0</text><text x="250.88" y="562.40" fill="#000">0</text><text x="272.62" y="562.40" fill="#000">0</text><text x="120.38" y="580.40" fill="#000">0</text><text x="142.12" y="580.40" fill="#000">0</text><text x="163.88" y="580.40" fill="#000">0</text><text x="185.62" y="580.40" fill="#000">0</text><text x="207.38" y="580.40" fill="#000">0</text><text x="229.12" y="580.40" fill="#555">1</text><text x="250.88" y="580.40" fill="#000">0</text><text x="272.62" y="580.40" fill="#000">0</text><text x="120.38" y="598.40" fill="#000">0</text><text x="142.12" y="598.40" fill="#000">0</text><text x="163.88" y="598.40" fill="#000">0</text><text x="185.62" y="598.40" fill="#000">0</text><text x="207.38" y="598.40" fill="#000">0</text><text x="229.12" y="598.40" fill="#000">0</text><text x="250.88" y="598.40" fill="#000">0</text><text x="272.62" y="598.40" fill="#000">0</text><text x="120.38" y="616.40" fill="#000">0</text><text x="142.12" y="616.40" fill="#000">0</text><text x="163.88" y="616.40" fill="#555">1</text><text x="185.62" y="616.40" fill="#555">2</text><text x="207.38" y="616.40" fill="#000">0</text><text x="229.12" y="616.40" fill="#000">0</text><text x="250.88" y="616.40" fill="#000">0</text><text x="272.62" y="616.40" fill="#000">0</text><text x="120.38" y="634.40" fill="#000">0</text><text x="142.12" y="634.40" fill="#000">0</text><text x="163.88" y="634.40" fill="#333">11</text><text x="185.62" y="634.40" fill="#000">0</text><text x="207.38" y="634.40" fill="#000">0</text><text x="229.12" y="634.40" fill="#000">0</text><text x="250.88" y="634.40" fill="#000">0</text><text x="272.62" y="634.40" fill="#000">0</text><text x="120.38" y="652.40" fill="#000">0</text><text x="142.12" y="652.40" fill="#000">0</text><text x="163.88" y="652.40" fill="#000">0</text><text x="185.62" y="652.40" fill="#000">0</text><text x="207.38" y="652.40" fill="#000">0</text><text x="229.12" y="652.40" fill="#000">0</text><text x="250.88" y="652.40" fill="#000">0</text><text x="272.62" y="652.40" fill="#000">0</text></g><rect x="109.50" y="533.50" width="174.00" height="126.00" fill="none" stroke="#000" stroke-width="1"/><g stroke="#000" stroke-width="0.8"><path d="M106.50 533.50H109.50"/><path d="M106.50 551.50H109.50"/><path d="M106.50 569.50H109.50"/><path d="M106.50 587.50H109.50"/><path d="M106.50 605.50H109.50"/><path d="M106.50 623.50H109.50"/><path d="M106.50 641.50H109.50"/><path d="M106.50 659.50H109.50"/><path d="M109.50 659.50V662.50"/><path d="M131.25 659.50V662.50"/><path d="M153.00 659.50V662.50"/><path d="M174.75 659.50V662.50"/><path d="M196.50 659.50V662.50"/><path d="M218.25 659.50V662.50"/><path d="M240.00 659.50V662.50"/><path d="M261.75 659.50V662.50"/><path d="M283.50 659.50V662.50"/></g><g style="font-family:'Liberation Serif',serif;font-size:6px;font-weight:bold" fill="#333" text-anchor="end"><text x="104.50" y="535.50">2021</text><text x="104.50" y="553.50">2020</text><text x="104.50" y="571.50">2019</text><text x="104.50" y="589.50">2018</text><text x="104.50" y="607.50">2017</text><text x="104.50" y="625.50">2016</text><text x="104.50" y="643.50">2015</text><text x="104.50" y="661.50">2014</text></g><g style="font-family:'Liberation Serif',serif;font-size:7.5px;font-weight:bold" fill="#111" text-anchor="middle"><text transform="translate(109.50,669.30) rotate(-90) scale(0.72,1)" x="0" y="2.6">2008</text><text transform="translate(131.25,669.30) rotate(-90) scale(0.72,1)" x="0" y="2.6">2009</text><text transform="translate(153.00,669.30) rotate(-90) scale(0.72,1)" x="0" y="2.6">2010</text><text transform="translate(174.75,669.30) rotate(-90) scale(0.72,1)" x="0" y="2.6">2011</text><text transform="translate(196.50,669.30) rotate(-90) scale(0.72,1)" x="0" y="2.6">2012</text><text transform="translate(218.25,669.30) rotate(-90) scale(0.72,1)" x="0" y="2.6">2013</text><text transform="translate(240.00,669.30) rotate(-90) scale(0.72,1)" x="0" y="2.6">2014</text><text transform="translate(261.75,669.30) rotate(-90) scale(0.72,1)" x="0" y="2.6">2015</text><text transform="translate(283.50,669.30) rotate(-90) scale(0.72,1)" x="0" y="2.6">2016</text></g>
<rect x="325.80" y="533.70" width="12.40" height="125.80" fill="url(#cg)"/><path d="M338.20 533.70V659.50M325.80 659.50H338.20" stroke="#000" stroke-width="1" fill="none"/><g style="font-family:'Liberation Serif',serif;font-size:5.5px" fill="#444"><path d="M338.20 659.50h2" stroke="#000" stroke-width="0.7"/><text x="342.20" y="661.20">0</text><path d="M338.20 634.34h2" stroke="#000" stroke-width="0.7"/><text x="342.20" y="636.04">5</text><path d="M338.20 609.18h2" stroke="#000" stroke-width="0.7"/><text x="342.20" y="610.88">10</text><path d="M338.20 584.02h2" stroke="#000" stroke-width="0.7"/><text x="342.20" y="585.72">15</text><path d="M338.20 558.86h2" stroke="#000" stroke-width="0.7"/><text x="342.20" y="560.56">20</text><path d="M338.20 533.70h2" stroke="#000" stroke-width="0.7"/><text x="342.20" y="535.40">25</text></g><text transform="translate(358.80,590.50) rotate(-90)" text-anchor="middle" y="4" style="font-family:'Liberation Serif',serif;font-size:11.2px">Number of elements</text>
<text x="456.00" y="392.00" style="font-family:'Liberation Serif',serif;font-weight:bold;font-size:16px">d</text>
<text x="487.80" y="392.00" style="font-family:'Liberation Serif',serif;font-size:12.5px">Constraints for different future period under SSP5-8.5</text>
<g stroke="#ff0000" stroke-width="1" fill="none"><path d="M463.48 492.40V515.15M462.58 492.40h1.8M462.58 515.15h1.8"/><path d="M467.73 492.40V515.15M466.83 492.40h1.8M466.83 515.15h1.8"/><path d="M471.99 492.40V515.15M471.09 492.40h1.8M471.09 515.15h1.8"/><path d="M476.24 492.40V515.15M475.34 492.40h1.8M475.34 515.15h1.8"/><path d="M480.50 492.40V515.15M479.60 492.40h1.8M479.60 515.15h1.8"/><path d="M484.76 492.40V515.15M483.86 492.40h1.8M483.86 515.15h1.8"/><path d="M489.01 492.40V515.15M488.11 492.40h1.8M488.11 515.15h1.8"/><path d="M493.27 492.40V515.15M492.37 492.40h1.8M492.37 515.15h1.8"/><path d="M497.52 492.40V515.15M496.62 492.40h1.8M496.62 515.15h1.8"/><path d="M501.78 492.40V510.60M500.88 492.40h1.8M500.88 510.60h1.8"/><path d="M506.04 492.40V510.60M505.14 492.40h1.8M505.14 510.60h1.8"/><path d="M510.29 492.40V510.60M509.39 492.40h1.8M509.39 510.60h1.8"/><path d="M514.55 492.40V510.60M513.65 492.40h1.8M513.65 510.60h1.8"/><path d="M518.80 492.40V510.60M517.90 492.40h1.8M517.90 510.60h1.8"/><path d="M523.06 492.40V510.60M522.16 492.40h1.8M522.16 510.60h1.8"/><path d="M527.32 492.40V510.60M526.42 492.40h1.8M526.42 510.60h1.8"/><path d="M531.57 492.40V510.60M530.67 492.40h1.8M530.67 510.60h1.8"/><path d="M535.83 492.40V510.60M534.93 492.40h1.8M534.93 510.60h1.8"/><path d="M540.08 492.40V515.15M539.18 492.40h1.8M539.18 515.15h1.8"/><path d="M544.34 492.40V515.15M543.44 492.40h1.8M543.44 515.15h1.8"/><path d="M548.60 492.40V515.15M547.70 492.40h1.8M547.70 515.15h1.8"/><path d="M552.85 492.40V515.15M551.95 492.40h1.8M551.95 515.15h1.8"/><path d="M557.11 492.40V515.15M556.21 492.40h1.8M556.21 515.15h1.8"/><path d="M561.36 492.40V515.15M560.46 492.40h1.8M560.46 515.15h1.8"/><path d="M565.62 492.40V515.15M564.72 492.40h1.8M564.72 515.15h1.8"/><path d="M569.88 496.95V515.15M568.98 496.95h1.8M568.98 515.15h1.8"/><path d="M574.13 496.95V515.15M573.23 496.95h1.8M573.23 515.15h1.8"/><path d="M578.39 496.95V515.15M577.49 496.95h1.8M577.49 515.15h1.8"/><path d="M582.64 496.95V515.15M581.74 496.95h1.8M581.74 515.15h1.8"/><path d="M586.90 492.40V515.15M586.00 492.40h1.8M586.00 515.15h1.8"/><path d="M591.16 492.40V515.15M590.26 492.40h1.8M590.26 515.15h1.8"/><path d="M595.41 492.40V528.80M594.51 492.40h1.8M594.51 528.80h1.8"/><path d="M599.67 492.40V510.60M598.77 492.40h1.8M598.77 510.60h1.8"/><path d="M603.92 492.40V515.15M603.02 492.40h1.8M603.02 515.15h1.8"/><path d="M608.18 492.40V528.80M607.28 492.40h1.8M607.28 528.80h1.8"/><path d="M612.44 492.40V528.80M611.54 492.40h1.8M611.54 528.80h1.8"/><path d="M616.69 492.40V528.80M615.79 492.40h1.8M615.79 528.80h1.8"/><path d="M620.95 492.40V528.80M620.05 492.40h1.8M620.05 528.80h1.8"/><path d="M625.20 492.40V528.80M624.30 492.40h1.8M624.30 528.80h1.8"/><path d="M629.46 492.40V528.80M628.56 492.40h1.8M628.56 528.80h1.8"/><path d="M633.72 492.40V528.80M632.82 492.40h1.8M632.82 528.80h1.8"/><path d="M637.97 492.40V528.80M637.07 492.40h1.8M637.07 528.80h1.8"/><path d="M642.23 492.40V533.35M641.33 492.40h1.8M641.33 533.35h1.8"/><path d="M646.48 492.40V533.35M645.58 492.40h1.8M645.58 533.35h1.8"/><path d="M650.74 492.40V533.35M649.84 492.40h1.8M649.84 533.35h1.8"/><path d="M655.00 492.40V533.35M654.10 492.40h1.8M654.10 533.35h1.8"/><path d="M659.25 492.40V533.35M658.35 492.40h1.8M658.35 533.35h1.8"/><path d="M663.51 492.40V533.35M662.61 492.40h1.8M662.61 533.35h1.8"/><path d="M667.76 492.40V533.35M666.86 492.40h1.8M666.86 533.35h1.8"/><path d="M672.02 492.40V533.35M671.12 492.40h1.8M671.12 533.35h1.8"/><path d="M676.28 492.40V533.35M675.38 492.40h1.8M675.38 533.35h1.8"/><path d="M680.53 492.40V533.35M679.63 492.40h1.8M679.63 533.35h1.8"/><path d="M684.79 492.40V533.35M683.89 492.40h1.8M683.89 533.35h1.8"/><path d="M689.04 492.40V533.35M688.14 492.40h1.8M688.14 533.35h1.8"/><path d="M693.30 501.50V533.35M692.40 501.50h1.8M692.40 533.35h1.8"/><path d="M697.56 501.50V533.35M696.66 501.50h1.8M696.66 533.35h1.8"/><path d="M701.81 501.50V533.35M700.91 501.50h1.8M700.91 533.35h1.8"/><path d="M706.07 501.50V533.35M705.17 501.50h1.8M705.17 533.35h1.8"/><path d="M710.32 501.50V533.35M709.42 501.50h1.8M709.42 533.35h1.8"/><path d="M714.58 501.50V533.35M713.68 501.50h1.8M713.68 533.35h1.8"/><path d="M718.84 501.50V533.35M717.94 501.50h1.8M717.94 533.35h1.8"/><path d="M723.09 501.50V533.35M722.19 501.50h1.8M722.19 533.35h1.8"/><path d="M727.35 501.50V533.35M726.45 501.50h1.8M726.45 533.35h1.8"/><path d="M731.60 501.50V533.35M730.70 501.50h1.8M730.70 533.35h1.8"/><path d="M735.86 501.50V533.35M734.96 501.50h1.8M734.96 533.35h1.8"/><path d="M740.12 501.50V533.35M739.22 501.50h1.8M739.22 533.35h1.8"/><path d="M744.37 501.50V533.35M743.47 501.50h1.8M743.47 533.35h1.8"/><path d="M748.63 501.50V533.35M747.73 501.50h1.8M747.73 533.35h1.8"/><path d="M752.88 501.50V533.35M751.98 501.50h1.8M751.98 533.35h1.8"/><path d="M757.14 519.70V537.90M756.24 519.70h1.8M756.24 537.90h1.8"/><path d="M761.40 501.50V533.35M760.50 501.50h1.8M760.50 533.35h1.8"/><path d="M765.65 515.15V533.35M764.75 515.15h1.8M764.75 533.35h1.8"/><path d="M769.91 501.50V533.35M769.01 501.50h1.8M769.01 533.35h1.8"/><path d="M774.16 501.50V533.35M773.26 501.50h1.8M773.26 533.35h1.8"/><path d="M778.42 501.50V533.35M777.52 501.50h1.8M777.52 533.35h1.8"/><path d="M782.68 501.50V533.35M781.78 501.50h1.8M781.78 533.35h1.8"/></g>
<g fill="#ff0000"><rect x="462.48" y="502.88" width="2" height="1.8"/><rect x="466.73" y="502.88" width="2" height="1.8"/><rect x="470.99" y="502.88" width="2" height="1.8"/><rect x="475.24" y="502.88" width="2" height="1.8"/><rect x="479.50" y="502.88" width="2" height="1.8"/><rect x="483.76" y="502.88" width="2" height="1.8"/><rect x="488.01" y="502.88" width="2" height="1.8"/><rect x="492.27" y="502.88" width="2" height="1.8"/><rect x="496.52" y="502.88" width="2" height="1.8"/><rect x="500.78" y="500.60" width="2" height="1.8"/><rect x="505.04" y="500.60" width="2" height="1.8"/><rect x="509.29" y="500.60" width="2" height="1.8"/><rect x="513.55" y="500.60" width="2" height="1.8"/><rect x="517.80" y="500.60" width="2" height="1.8"/><rect x="522.06" y="500.60" width="2" height="1.8"/><rect x="526.32" y="500.60" width="2" height="1.8"/><rect x="530.57" y="500.60" width="2" height="1.8"/><rect x="534.83" y="500.60" width="2" height="1.8"/><rect x="539.08" y="502.88" width="2" height="1.8"/><rect x="543.34" y="502.88" width="2" height="1.8"/><rect x="547.60" y="502.88" width="2" height="1.8"/><rect x="551.85" y="502.88" width="2" height="1.8"/><rect x="556.11" y="502.88" width="2" height="1.8"/><rect x="560.36" y="502.88" width="2" height="1.8"/><rect x="564.62" y="502.88" width="2" height="1.8"/><rect x="568.88" y="505.15" width="2" height="1.8"/><rect x="573.13" y="505.15" width="2" height="1.8"/><rect x="577.39" y="505.15" width="2" height="1.8"/><rect x="581.64" y="505.15" width="2" height="1.8"/><rect x="585.90" y="502.88" width="2" height="1.8"/><rect x="590.16" y="502.88" width="2" height="1.8"/><rect x="594.41" y="509.70" width="2" height="1.8"/><rect x="598.67" y="500.60" width="2" height="1.8"/><rect x="602.92" y="502.88" width="2" height="1.8"/><rect x="607.18" y="509.70" width="2" height="1.8"/><rect x="611.44" y="509.70" width="2" height="1.8"/><rect x="615.69" y="509.70" width="2" height="1.8"/><rect x="619.95" y="509.70" width="2" height="1.8"/><rect x="624.20" y="509.70" width="2" height="1.8"/><rect x="628.46" y="509.70" width="2" height="1.8"/><rect x="632.72" y="509.70" width="2" height="1.8"/><rect x="636.97" y="509.70" width="2" height="1.8"/><rect x="641.23" y="511.98" width="2" height="1.8"/><rect x="645.48" y="511.98" width="2" height="1.8"/><rect x="649.74" y="511.98" width="2" height="1.8"/><rect x="654.00" y="511.98" width="2" height="1.8"/><rect x="658.25" y="511.98" width="2" height="1.8"/><rect x="662.51" y="511.98" width="2" height="1.8"/><rect x="666.76" y="511.98" width="2" height="1.8"/><rect x="671.02" y="511.98" width="2" height="1.8"/><rect x="675.28" y="511.98" width="2" height="1.8"/><rect x="679.53" y="511.98" width="2" height="1.8"/><rect x="683.79" y="511.98" width="2" height="1.8"/><rect x="688.04" y="511.98" width="2" height="1.8"/><rect x="692.30" y="516.52" width="2" height="1.8"/><rect x="696.56" y="516.52" width="2" height="1.8"/><rect x="700.81" y="516.52" width="2" height="1.8"/><rect x="705.07" y="516.52" width="2" height="1.8"/><rect x="709.32" y="516.52" width="2" height="1.8"/><rect x="713.58" y="516.52" width="2" height="1.8"/><rect x="717.84" y="516.52" width="2" height="1.8"/><rect x="722.09" y="516.52" width="2" height="1.8"/><rect x="726.35" y="516.52" width="2" height="1.8"/><rect x="730.60" y="516.52" width="2" height="1.8"/><rect x="734.86" y="516.52" width="2" height="1.8"/><rect x="739.12" y="516.52" width="2" height="1.8"/><rect x="743.37" y="516.52" width="2" height="1.8"/><rect x="747.63" y="516.52" width="2" height="1.8"/><rect x="751.88" y="516.52" width="2" height="1.8"/><rect x="756.14" y="527.90" width="2" height="1.8"/><rect x="760.40" y="516.52" width="2" height="1.8"/><rect x="764.65" y="523.35" width="2" height="1.8"/><rect x="768.91" y="516.52" width="2" height="1.8"/><rect x="773.16" y="516.52" width="2" height="1.8"/><rect x="777.42" y="516.52" width="2" height="1.8"/><rect x="781.68" y="516.52" width="2" height="1.8"/></g>
<g stroke="#000" stroke-width="1" fill="none"><rect x="460" y="401" width="1" height="274" fill="#000" stroke="none"/><rect x="785" y="401" width="1" height="274" fill="#444" stroke="none"/><rect x="460" y="401" width="326" height="1" fill="#ccc" stroke="none"/><rect x="460" y="674" width="326" height="1" fill="#444" stroke="none"/><path d="M455.50 401.40H460.50M780.40 401.40H785.40"/><path d="M458.00 412.77H460.50M782.90 412.77H785.40"/><path d="M455.50 424.15H460.50M780.40 424.15H785.40"/><path d="M458.00 435.52H460.50M782.90 435.52H785.40"/><path d="M455.50 446.90H460.50M780.40 446.90H785.40"/><path d="M458.00 458.27H460.50M782.90 458.27H785.40"/><path d="M455.50 469.65H460.50M780.40 469.65H785.40"/><path d="M458.00 481.02H460.50M782.90 481.02H785.40"/><path d="M455.50 492.40H460.50M780.40 492.40H785.40"/><path d="M458.00 503.77H460.50M782.90 503.77H785.40"/><path d="M455.50 515.15H460.50M780.40 515.15H785.40"/><path d="M458.00 526.52H460.50M782.90 526.52H785.40"/><path d="M455.50 537.90H460.50M780.40 537.90H785.40"/><path d="M458.00 549.27H460.50M782.90 549.27H785.40"/><path d="M455.50 560.65H460.50M780.40 560.65H785.40"/><path d="M458.00 572.02H460.50M782.90 572.02H785.40"/><path d="M455.50 583.40H460.50M780.40 583.40H785.40"/><path d="M458.00 594.77H460.50M782.90 594.77H785.40"/><path d="M455.50 606.15H460.50M780.40 606.15H785.40"/><path d="M458.00 617.52H460.50M782.90 617.52H785.40"/><path d="M455.50 628.90H460.50M780.40 628.90H785.40"/><path d="M458.00 640.27H460.50M782.90 640.27H785.40"/><path d="M455.50 651.65H460.50M780.40 651.65H785.40"/><path d="M458.00 663.02H460.50M782.90 663.02H785.40"/><path d="M455.50 674.40H460.50M780.40 674.40H785.40"/><path d="M480.50 674.40V680.40M480.50 401.40V406.40"/><path d="M501.78 674.40V680.40M501.78 401.40V406.40"/><path d="M523.06 674.40V680.40M523.06 401.40V406.40"/><path d="M544.34 674.40V680.40M544.34 401.40V406.40"/><path d="M565.62 674.40V680.40M565.62 401.40V406.40"/><path d="M586.90 674.40V680.40M586.90 401.40V406.40"/><path d="M608.18 674.40V680.40M608.18 401.40V406.40"/><path d="M629.46 674.40V680.40M629.46 401.40V406.40"/><path d="M650.74 674.40V680.40M650.74 401.40V406.40"/><path d="M672.02 674.40V680.40M672.02 401.40V406.40"/><path d="M693.30 674.40V680.40M693.30 401.40V406.40"/><path d="M714.58 674.40V680.40M714.58 401.40V406.40"/><path d="M735.86 674.40V680.40M735.86 401.40V406.40"/><path d="M757.14 674.40V680.40M757.14 401.40V406.40"/><path d="M778.42 674.40V680.40M778.42 401.40V406.40"/></g>
<g style="font-family:'Liberation Serif',serif;font-size:11px;letter-spacing:-0.5px" text-anchor="end"><text x="451.50" y="405.10">2040</text><text x="451.50" y="427.85">2035</text><text x="451.50" y="450.60">2030</text><text x="451.50" y="473.35">2025</text><text x="451.50" y="496.10">2020</text><text x="451.50" y="518.85">2015</text><text x="451.50" y="541.60">2010</text><text x="451.50" y="564.35">2005</text><text x="451.50" y="587.10">2000</text><text x="451.50" y="609.85">1995</text><text x="451.50" y="632.60">1990</text><text x="451.50" y="655.35">1985</text><text x="451.50" y="678.10">1980</text></g>
<g style="font-family:'Liberation Serif',serif;font-size:10.5px;letter-spacing:-0.5px" text-anchor="middle"><text transform="translate(478.20,696.90) rotate(-45)" x="0" y="4">2029</text><text transform="translate(499.48,696.90) rotate(-45)" x="0" y="4">2034</text><text transform="translate(520.76,696.90) rotate(-45)" x="0" y="4">2039</text><text transform="translate(542.04,696.90) rotate(-45)" x="0" y="4">2044</text><text transform="translate(563.32,696.90) rotate(-45)" x="0" y="4">2049</text><text transform="translate(584.60,696.90) rotate(-45)" x="0" y="4">2054</text><text transform="translate(605.88,696.90) rotate(-45)" x="0" y="4">2059</text><text transform="translate(627.16,696.90) rotate(-45)" x="0" y="4">2064</text><text transform="translate(648.44,696.90) rotate(-45)" x="0" y="4">2069</text><text transform="translate(669.72,696.90) rotate(-45)" x="0" y="4">2074</text><text transform="translate(691.00,696.90) rotate(-45)" x="0" y="4">2079</text><text transform="translate(712.28,696.90) rotate(-45)" x="0" y="4">2084</text><text transform="translate(733.56,696.90) rotate(-45)" x="0" y="4">2089</text><text transform="translate(754.84,696.90) rotate(-45)" x="0" y="4">2094</text><text transform="translate(776.12,696.90) rotate(-45)" x="0" y="4">2099</text></g>
<rect x="492.50" y="532.50" width="173.00" height="128.00" fill="#ece6dd"/><rect x="535.75" y="532.50" width="21.93" height="16.30" fill="#6b8fb5"/><rect x="557.38" y="532.50" width="21.93" height="16.30" fill="#9aaec4"/><rect x="622.25" y="532.50" width="21.93" height="16.30" fill="#2f5070"/><rect x="643.88" y="532.50" width="21.93" height="16.30" fill="#8aa3c0"/><rect x="622.25" y="548.50" width="21.93" height="16.30" fill="#d6c8b4"/><rect x="535.75" y="564.50" width="21.93" height="16.30" fill="#2e4d6d"/><rect x="535.75" y="628.50" width="21.93" height="16.30" fill="#e3e0d8"/><rect x="514.12" y="644.50" width="21.93" height="16.30" fill="#e3e0d8"/><g style="font-family:'Liberation Serif',serif;font-size:5px" text-anchor="middle"><text x="503.31" y="542.40" fill="#000">0</text><text x="524.94" y="542.40" fill="#000">0</text><text x="546.56" y="542.40" fill="#222">10</text><text x="568.19" y="542.40" fill="#333">8</text><text x="589.81" y="542.40" fill="#000">0</text><text x="611.44" y="542.40" fill="#000">0</text><text x="633.06" y="542.40" fill="#ddd">17</text><text x="654.69" y="542.40" fill="#333">9</text><text x="503.31" y="558.40" fill="#000">0</text><text x="524.94" y="558.40" fill="#000">0</text><text x="546.56" y="558.40" fill="#000">0</text><text x="568.19" y="558.40" fill="#000">0</text><text x="589.81" y="558.40" fill="#000">0</text><text x="611.44" y="558.40" fill="#000">0</text><text x="633.06" y="558.40" fill="#555">4</text><text x="654.69" y="558.40" fill="#000">0</text><text x="503.31" y="574.40" fill="#000">0</text><text x="524.94" y="574.40" fill="#000">0</text><text x="546.56" y="574.40" fill="#ddd">18</text><text x="568.19" y="574.40" fill="#000">0</text><text x="589.81" y="574.40" fill="#000">0</text><text x="611.44" y="574.40" fill="#000">0</text><text x="633.06" y="574.40" fill="#000">0</text><text x="654.69" y="574.40" fill="#000">0</text><text x="503.31" y="590.40" fill="#000">0</text><text x="524.94" y="590.40" fill="#000">0</text><text x="546.56" y="590.40" fill="#000">0</text><text x="568.19" y="590.40" fill="#000">0</text><text x="589.81" y="590.40" fill="#000">0</text><text x="611.44" y="590.40" fill="#000">0</text><text x="633.06" y="590.40" fill="#000">0</text><text x="654.69" y="590.40" fill="#000">0</text><text x="503.31" y="606.40" fill="#000">0</text><text x="524.94" y="606.40" fill="#000">0</text><text x="546.56" y="606.40" fill="#000">0</text><text x="568.19" y="606.40" fill="#000">0</text><text x="589.81" y="606.40" fill="#000">0</text><text x="611.44" y="606.40" fill="#000">0</text><text x="633.06" y="606.40" fill="#000">0</text><text x="654.69" y="606.40" fill="#000">0</text><text x="503.31" y="622.40" fill="#000">0</text><text x="524.94" y="622.40" fill="#000">0</text><text x="546.56" y="622.40" fill="#000">0</text><text x="568.19" y="622.40" fill="#000">0</text><text x="589.81" y="622.40" fill="#000">0</text><text x="611.44" y="622.40" fill="#000">0</text><text x="633.06" y="622.40" fill="#000">0</text><text x="654.69" y="622.40" fill="#000">0</text><text x="503.31" y="638.40" fill="#000">0</text><text x="524.94" y="638.40" fill="#000">0</text><text x="546.56" y="638.40" fill="#555">1</text><text x="568.19" y="638.40" fill="#000">0</text><text x="589.81" y="638.40" fill="#000">0</text><text x="611.44" y="638.40" fill="#000">0</text><text x="633.06" y="638.40" fill="#000">0</text><text x="654.69" y="638.40" fill="#000">0</text><text x="503.31" y="654.40" fill="#000">0</text><text x="524.94" y="654.40" fill="#555">1</text><text x="546.56" y="654.40" fill="#000">0</text><text x="568.19" y="654.40" fill="#000">0</text><text x="589.81" y="654.40" fill="#000">0</text><text x="611.44" y="654.40" fill="#000">0</text><text x="633.06" y="654.40" fill="#000">0</text><text x="654.69" y="654.40" fill="#000">0</text></g><rect x="492.50" y="532.50" width="173.00" height="128.00" fill="none" stroke="#000" stroke-width="1"/><g stroke="#000" stroke-width="0.8"><path d="M489.50 532.50H492.50"/><path d="M489.50 548.50H492.50"/><path d="M489.50 564.50H492.50"/><path d="M489.50 580.50H492.50"/><path d="M489.50 596.50H492.50"/><path d="M489.50 612.50H492.50"/><path d="M489.50 628.50H492.50"/><path d="M489.50 644.50H492.50"/><path d="M489.50 660.50H492.50"/><path d="M492.50 660.50V663.50"/><path d="M514.12 660.50V663.50"/><path d="M535.75 660.50V663.50"/><path d="M557.38 660.50V663.50"/><path d="M579.00 660.50V663.50"/><path d="M600.62 660.50V663.50"/><path d="M622.25 660.50V663.50"/><path d="M643.88 660.50V663.50"/><path d="M665.50 660.50V663.50"/></g><g style="font-family:'Liberation Serif',serif;font-size:6px;font-weight:bold" fill="#333" text-anchor="end"><text x="487.50" y="534.50">2021</text><text x="487.50" y="550.50">2020</text><text x="487.50" y="566.50">2019</text><text x="487.50" y="582.50">2018</text><text x="487.50" y="598.50">2017</text><text x="487.50" y="614.50">2016</text><text x="487.50" y="630.50">2015</text><text x="487.50" y="646.50">2014</text><text x="487.50" y="662.50">2013</text></g><g style="font-family:'Liberation Serif',serif;font-size:7.5px;font-weight:bold" fill="#111" text-anchor="middle"><text transform="translate(492.50,670.30) rotate(-90) scale(0.72,1)" x="0" y="2.6">2008</text><text transform="translate(514.12,670.30) rotate(-90) scale(0.72,1)" x="0" y="2.6">2009</text><text transform="translate(535.75,670.30) rotate(-90) scale(0.72,1)" x="0" y="2.6">2010</text><text transform="translate(557.38,670.30) rotate(-90) scale(0.72,1)" x="0" y="2.6">2011</text><text transform="translate(579.00,670.30) rotate(-90) scale(0.72,1)" x="0" y="2.6">2012</text><text transform="translate(600.62,670.30) rotate(-90) scale(0.72,1)" x="0" y="2.6">2013</text><text transform="translate(622.25,670.30) rotate(-90) scale(0.72,1)" x="0" y="2.6">2014</text><text transform="translate(643.88,670.30) rotate(-90) scale(0.72,1)" x="0" y="2.6">2015</text><text transform="translate(665.50,670.30) rotate(-90) scale(0.72,1)" x="0" y="2.6">2016</text></g>
<rect x="707.80" y="533.00" width="11.90" height="127.60" fill="url(#cg)"/><path d="M719.70 533.00V660.60M707.80 660.60H719.70" stroke="#000" stroke-width="1" fill="none"/><g style="font-family:'Liberation Serif',serif;font-size:5.5px" fill="#444"><path d="M719.70 660.60h2" stroke="#000" stroke-width="0.7"/><text x="723.70" y="662.30">0</text><path d="M719.70 628.70h2" stroke="#000" stroke-width="0.7"/><text x="723.70" y="630.40">5</text><path d="M719.70 596.80h2" stroke="#000" stroke-width="0.7"/><text x="723.70" y="598.50">10</text><path d="M719.70 564.90h2" stroke="#000" stroke-width="0.7"/><text x="723.70" y="566.60">15</text><path d="M719.70 533.00h2" stroke="#000" stroke-width="0.7"/><text x="723.70" y="534.70">20</text></g><text transform="translate(740.30,592.70) rotate(-90)" text-anchor="middle" y="4" style="font-family:'Liberation Serif',serif;font-size:11.2px">Number of elements</text>
<text transform="translate(35.5,178) rotate(-90)" text-anchor="middle" y="5" style="font-family:'Liberation Serif',serif;font-size:14.7px">Time interval for the constraint</text>
<text transform="translate(35.5,530.5) rotate(-90)" text-anchor="middle" y="5" style="font-family:'Liberation Serif',serif;font-size:14.7px">Time interval for the constraint</text>
<text x="241" y="725.6" text-anchor="middle" style="font-family:'Liberation Serif',serif;font-size:15px">Ending year of each 5-yr running mean segment</text>
<text x="627" y="725.6" text-anchor="middle" style="font-family:'Liberation Serif',serif;font-size:15px">Ending year of each 5-yr running mean segment</text>
<rect x="676" y="686" width="152" height="26" fill="#fff"/>
<g fill="rgba(255,255,255,0.75)" stroke="#9a9a9a" stroke-width="0.9"><path d="M648.5 684c6.6 0 11.8 4.6 11.8 10.4c0 5.8-5.2 10.4-11.8 10.4c-1.3 0-2.5-0.2-3.6-0.5l-4.2 2.2l1-3.4c-3-1.9-5-5-5-8.7c0-5.8 5.2-10.4 11.8-10.4z"/></g>
<g fill="rgba(255,255,255,0.8)" stroke="#555" stroke-width="1"><path d="M660.5 692.5c5.8 0 10.5 4.2 10.5 9.4c0 3.2-1.8 6-4.5 7.7l1 3.2l-3.6-2c-1.1 0.3-2.2 0.5-3.4 0.5c-5.8 0-10.5-4.2-10.5-9.4c0-5.2 4.7-9.4 10.5-9.4z"/></g>
<g fill="#888"><circle cx="644.5" cy="691" r="0.9"/><circle cx="652" cy="691" r="0.9"/><circle cx="657" cy="699" r="0.8"/><circle cx="664" cy="699" r="0.8"/></g>
<g fill="none" stroke-linecap="square"><path transform="translate(680.7,688.7)" d="M2 6H17V15H2ZM9.5 1V22" stroke="#606060" stroke-width="1.7"/><path transform="translate(679.8,687.8)" d="M2 6H17V15H2ZM9.5 1V22" stroke="#fff" stroke-width="0.8"/><path transform="translate(701.7,688.7)" d="M5 1L1 7M3 4H18M4 8.5H16M2 12.5H16.5V19Q17 22 20 21M7 14L9 17M12 14L10 17" stroke="#606060" stroke-width="1.7"/><path transform="translate(700.8,687.8)" d="M5 1L1 7M3 4H18M4 8.5H16M2 12.5H16.5V19Q17 22 20 21M7 14L9 17M12 14L10 17" stroke="#fff" stroke-width="0.8"/><path transform="translate(722.7,688.7)" d="M17 1L3 3.5M5 4.5L6 6.5M10 4.5L10 6.5M15 4.5L14 6.5M2 9.5V7.5H19V9.5M4 11H17M9 10L4 21M7 14H16L6 21.5M9 16L18 21.5" stroke="#606060" stroke-width="1.7"/><path transform="translate(721.8,687.8)" d="M17 1L3 3.5M5 4.5L6 6.5M10 4.5L10 6.5M15 4.5L14 6.5M2 9.5V7.5H19V9.5M4 11H17M9 10L4 21M7 14H16L6 21.5M9 16L18 21.5" stroke="#fff" stroke-width="0.8"/><path transform="translate(744.7,688.7)" d="M8 1.5L2 3M1 7H9M5 3V22M5 8L1 16M5 9L9 13M12 3L14 5M11 8L13 10M10 14H20M16 1V22" stroke="#606060" stroke-width="1.7"/><path transform="translate(743.8,687.8)" d="M8 1.5L2 3M1 7H9M5 3V22M5 8L1 16M5 9L9 13M12 3L14 5M11 8L13 10M10 14H20M16 1V22" stroke="#fff" stroke-width="0.8"/><path transform="translate(765.7,688.7)" d="M1 6.5H7M4 1V20L2 19M1 13.5L7 10.5M9 5H19M14 1V10M10 11H17L9 21.5M11 14L19 21.5" stroke="#606060" stroke-width="1.7"/><path transform="translate(764.8,687.8)" d="M1 6.5H7M4 1V20L2 19M1 13.5L7 10.5M9 5H19M14 1V10M10 11H17L9 21.5M11 14L19 21.5" stroke="#fff" stroke-width="0.8"/><path transform="translate(785.7,688.7)" d="M5 1V3M1 4H9M3 5L4 8M7 5L6 8M1 9H9M1 12H9M5 9V22M5 13L1 19M5 13L9 17M18 2L12 4V20L10 22M12 10H20M16 10V22" stroke="#606060" stroke-width="1.7"/><path transform="translate(784.8,687.8)" d="M5 1V3M1 4H9M3 5L4 8M7 5L6 8M1 9H9M1 12H9M5 9V22M5 13L1 19M5 13L9 17M18 2L12 4V20L10 22M12 10H20M16 10V22" stroke="#fff" stroke-width="0.8"/><path transform="translate(805.7,688.7)" d="M4 1L1 6M2 5H9M1 10H10M6 3V10L1 21M6 12L10 20M12 5H19V19H12Z" stroke="#606060" stroke-width="1.7"/><path transform="translate(804.8,687.8)" d="M4 1L1 6M2 5H9M1 10H10M6 3V10L1 21M6 12L10 20M12 5H19V19H12Z" stroke="#fff" stroke-width="0.8"/></g>
<rect x="851" y="0" width="1" height="738" fill="#000"/>
</svg></body></html>
